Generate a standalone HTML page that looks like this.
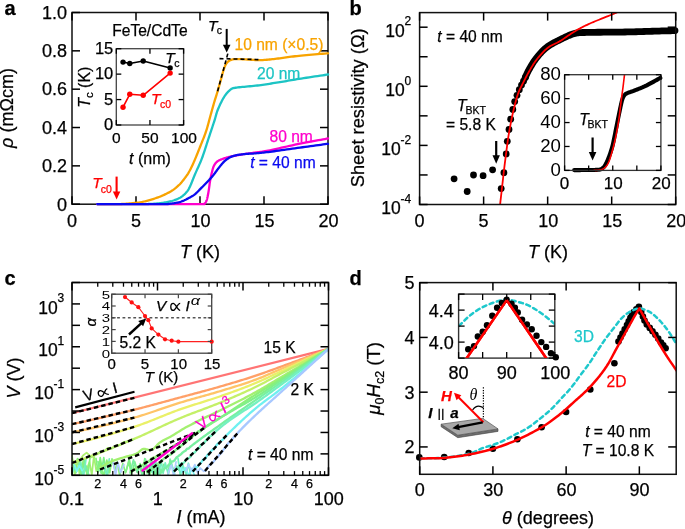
<!DOCTYPE html>
<html><head><meta charset="utf-8"><style>
html,body{margin:0;padding:0;background:#fff;overflow:hidden;}
svg{display:block;will-change:transform;font-family:"Liberation Sans", sans-serif;}
</style></head><body>
<svg width="685" height="529" viewBox="0 0 685 529">
<rect width="685" height="529" fill="#fff"/>
<defs>
<clipPath id="clipb"><rect x="419.6" y="12.6" width="256.10" height="191.90"/></clipPath>
<clipPath id="clipc"><rect x="72" y="282.5" width="256.50" height="192.80"/></clipPath>
<clipPath id="clipd"><rect x="419.7" y="282.6" width="256.50" height="191.70"/></clipPath>
<clipPath id="clipdi"><rect x="458.6" y="294.1" width="96.20" height="64.00"/></clipPath>
<clipPath id="clipdi2"><rect x="448.6" y="294.1" width="116.20" height="74.00"/></clipPath>
</defs>
<text x="4.50" y="14.70" font-size="20" text-anchor="start" fill="#000" stroke="#000" stroke-width="0.25" font-weight="bold" >a</text>
<rect x="72" y="12.5" width="256.00" height="191.70" fill="none" stroke="#111" stroke-width="1.5"/>
<line x1="72.00" y1="204.20" x2="72.00" y2="196.20" stroke="#000" stroke-width="1.5" />
<line x1="72.00" y1="12.50" x2="72.00" y2="20.50" stroke="#000" stroke-width="1.5" />
<text x="72.00" y="226.50" font-size="18" text-anchor="middle" fill="#000" stroke="#000" stroke-width="0.25" >0</text>
<line x1="136.00" y1="204.20" x2="136.00" y2="196.20" stroke="#000" stroke-width="1.5" />
<line x1="136.00" y1="12.50" x2="136.00" y2="20.50" stroke="#000" stroke-width="1.5" />
<text x="136.00" y="226.50" font-size="18" text-anchor="middle" fill="#000" stroke="#000" stroke-width="0.25" >5</text>
<line x1="200.00" y1="204.20" x2="200.00" y2="196.20" stroke="#000" stroke-width="1.5" />
<line x1="200.00" y1="12.50" x2="200.00" y2="20.50" stroke="#000" stroke-width="1.5" />
<text x="200.50" y="226.50" font-size="18" text-anchor="middle" fill="#000" stroke="#000" stroke-width="0.25" >10</text>
<line x1="264.00" y1="204.20" x2="264.00" y2="196.20" stroke="#000" stroke-width="1.5" />
<line x1="264.00" y1="12.50" x2="264.00" y2="20.50" stroke="#000" stroke-width="1.5" />
<text x="264.50" y="226.50" font-size="18" text-anchor="middle" fill="#000" stroke="#000" stroke-width="0.25" >15</text>
<line x1="328.00" y1="204.20" x2="328.00" y2="196.20" stroke="#000" stroke-width="1.5" />
<line x1="328.00" y1="12.50" x2="328.00" y2="20.50" stroke="#000" stroke-width="1.5" />
<text x="328.50" y="226.50" font-size="18" text-anchor="middle" fill="#000" stroke="#000" stroke-width="0.25" >20</text>
<line x1="72.00" y1="204.20" x2="80.00" y2="204.20" stroke="#000" stroke-width="1.5" />
<line x1="328.00" y1="204.20" x2="320.00" y2="204.20" stroke="#000" stroke-width="1.5" />
<text x="67.00" y="210.50" font-size="18" text-anchor="end" fill="#000" stroke="#000" stroke-width="0.25" >0</text>
<line x1="72.00" y1="165.86" x2="80.00" y2="165.86" stroke="#000" stroke-width="1.5" />
<line x1="328.00" y1="165.86" x2="320.00" y2="165.86" stroke="#000" stroke-width="1.5" />
<text x="67.00" y="172.16" font-size="18" text-anchor="end" fill="#000" stroke="#000" stroke-width="0.25" >0.2</text>
<line x1="72.00" y1="127.52" x2="80.00" y2="127.52" stroke="#000" stroke-width="1.5" />
<line x1="328.00" y1="127.52" x2="320.00" y2="127.52" stroke="#000" stroke-width="1.5" />
<text x="67.00" y="133.82" font-size="18" text-anchor="end" fill="#000" stroke="#000" stroke-width="0.25" >0.4</text>
<line x1="72.00" y1="89.18" x2="80.00" y2="89.18" stroke="#000" stroke-width="1.5" />
<line x1="328.00" y1="89.18" x2="320.00" y2="89.18" stroke="#000" stroke-width="1.5" />
<text x="67.00" y="95.48" font-size="18" text-anchor="end" fill="#000" stroke="#000" stroke-width="0.25" >0.6</text>
<line x1="72.00" y1="50.84" x2="80.00" y2="50.84" stroke="#000" stroke-width="1.5" />
<line x1="328.00" y1="50.84" x2="320.00" y2="50.84" stroke="#000" stroke-width="1.5" />
<text x="67.00" y="57.14" font-size="18" text-anchor="end" fill="#000" stroke="#000" stroke-width="0.25" >0.8</text>
<line x1="72.00" y1="12.50" x2="80.00" y2="12.50" stroke="#000" stroke-width="1.5" />
<line x1="328.00" y1="12.50" x2="320.00" y2="12.50" stroke="#000" stroke-width="1.5" />
<text x="67.00" y="18.80" font-size="18" text-anchor="end" fill="#000" stroke="#000" stroke-width="0.25" >1.0</text>
<polyline points="97.30,204.20 98.19,204.20 99.35,204.20 100.73,204.20 102.29,204.21 103.96,204.21 105.71,204.21 107.49,204.21 109.24,204.21 110.91,204.21 112.46,204.21 113.84,204.21 115.00,204.20 115.96,204.19 116.80,204.18 117.53,204.17 118.16,204.16 118.73,204.14 119.23,204.12 119.70,204.11 120.14,204.09 120.57,204.07 121.02,204.05 121.49,204.02 122.00,204.00 122.54,203.97 123.06,203.95 123.57,203.92 124.07,203.89 124.57,203.86 125.06,203.82 125.55,203.79 126.04,203.76 126.52,203.72 127.01,203.68 127.50,203.64 128.00,203.60 128.50,203.56 128.99,203.51 129.47,203.47 129.96,203.42 130.44,203.37 130.93,203.32 131.42,203.27 131.92,203.22 132.42,203.17 132.94,203.11 133.46,203.06 134.00,203.00 134.54,202.95 135.08,202.90 135.62,202.86 136.17,202.81 136.72,202.77 137.29,202.73 137.87,202.67 138.46,202.61 139.08,202.53 139.72,202.44 140.40,202.33 141.10,202.20 141.84,202.05 142.62,201.88 143.43,201.70 144.27,201.50 145.13,201.29 146.01,201.07 146.89,200.85 147.79,200.61 148.68,200.36 149.56,200.11 150.44,199.86 151.30,199.60 152.15,199.34 153.00,199.08 153.85,198.81 154.70,198.53 155.54,198.25 156.39,197.96 157.24,197.66 158.09,197.36 158.94,197.04 159.79,196.70 160.65,196.36 161.50,196.00 162.36,195.62 163.25,195.23 164.14,194.83 165.04,194.41 165.94,193.98 166.84,193.54 167.72,193.09 168.59,192.64 169.44,192.18 170.26,191.72 171.05,191.26 171.80,190.80 172.52,190.33 173.22,189.85 173.89,189.36 174.55,188.86 175.18,188.36 175.79,187.86 176.38,187.35 176.95,186.86 177.50,186.37 178.02,185.90 178.52,185.44 179.00,185.00 179.44,184.59 179.83,184.21 180.19,183.86 180.51,183.52 180.82,183.19 181.11,182.87 181.39,182.54 181.67,182.19 181.97,181.82 182.28,181.42 182.62,180.98 183.00,180.50 183.41,179.98 183.83,179.43 184.28,178.86 184.73,178.27 185.20,177.66 185.67,177.02 186.15,176.36 186.63,175.69 187.11,174.99 187.58,174.28 188.05,173.55 188.50,172.80 188.94,172.04 189.37,171.28 189.80,170.51 190.21,169.72 190.63,168.91 191.05,168.08 191.47,167.22 191.90,166.34 192.33,165.41 192.77,164.45 193.23,163.45 193.70,162.40 194.19,161.29 194.69,160.13 195.20,158.91 195.73,157.65 196.26,156.36 196.79,155.04 197.33,153.70 197.87,152.35 198.41,151.00 198.95,149.65 199.48,148.31 200.00,147.00 200.52,145.70 201.05,144.39 201.58,143.08 202.11,141.76 202.64,140.44 203.17,139.12 203.69,137.80 204.20,136.47 204.70,135.15 205.18,133.83 205.65,132.51 206.10,131.20 206.53,129.88 206.94,128.55 207.33,127.22 207.71,125.88 208.08,124.54 208.44,123.21 208.80,121.88 209.14,120.57 209.48,119.27 209.82,117.99 210.16,116.73 210.50,115.50 210.84,114.29 211.18,113.08 211.51,111.88 211.84,110.70 212.17,109.53 212.49,108.38 212.80,107.24 213.11,106.14 213.42,105.06 213.72,104.00 214.01,102.98 214.30,102.00 214.58,101.07 214.84,100.19 215.10,99.36 215.34,98.57 215.59,97.80 215.82,97.05 216.06,96.31 216.30,95.56 216.54,94.79 216.79,94.00 217.04,93.17 217.30,92.30 217.57,91.38 217.85,90.42 218.14,89.43 218.43,88.42 218.72,87.39 219.02,86.36 219.31,85.32 219.60,84.29 219.89,83.28 220.17,82.29 220.44,81.33 220.70,80.40 220.95,79.50 221.19,78.60 221.43,77.72 221.66,76.84 221.89,75.98 222.11,75.14 222.33,74.31 222.55,73.51 222.76,72.74 222.98,71.99 223.19,71.28 223.40,70.60 223.61,69.95 223.81,69.34 224.00,68.75 224.20,68.20 224.39,67.66 224.58,67.16 224.77,66.67 224.96,66.20 225.16,65.76 225.36,65.32 225.58,64.91 225.80,64.50 226.03,64.11 226.26,63.75 226.50,63.40 226.73,63.07 226.98,62.77 227.22,62.48 227.48,62.20 227.74,61.94 228.02,61.69 228.30,61.45 228.59,61.22 228.90,61.00 229.22,60.79 229.55,60.60 229.89,60.41 230.24,60.24 230.61,60.09 230.98,59.94 231.35,59.81 231.73,59.69 232.12,59.58 232.51,59.48 232.90,59.38 233.30,59.30 233.69,59.23 234.07,59.17 234.44,59.13 234.82,59.10 235.20,59.08 235.59,59.07 235.99,59.06 236.41,59.07 236.86,59.07 237.34,59.08 237.85,59.09 238.40,59.10 238.98,59.11 239.56,59.13 240.16,59.15 240.79,59.18 241.43,59.21 242.11,59.25 242.81,59.29 243.56,59.33 244.35,59.37 245.18,59.41 246.06,59.46 247.00,59.50 248.00,59.55 249.06,59.61 250.18,59.69 251.35,59.77 252.56,59.85 253.80,59.93 255.07,60.00 256.36,60.06 257.67,60.10 258.98,60.12 260.29,60.13 261.60,60.10 262.90,60.05 264.20,59.97 265.51,59.88 266.83,59.77 268.16,59.64 269.51,59.51 270.88,59.36 272.28,59.20 273.71,59.03 275.17,58.86 276.66,58.68 278.20,58.50 279.76,58.31 281.33,58.11 282.91,57.90 284.51,57.67 286.15,57.44 287.82,57.21 289.53,56.97 291.30,56.73 293.12,56.49 295.00,56.25 296.96,56.02 299.00,55.80 301.23,55.58 303.71,55.34 306.37,55.10 309.16,54.86 312.01,54.62 314.85,54.38 317.62,54.15 320.25,53.94 322.68,53.74 324.84,53.57 326.67,53.42 328.10,53.30" fill="none" stroke="#f8a300" stroke-width="2.3" stroke-linejoin="round" stroke-linecap="round" />
<polyline points="97.30,204.20 99.47,204.20 102.34,204.20 105.78,204.20 109.64,204.21 113.80,204.21 118.12,204.21 122.48,204.21 126.73,204.21 130.74,204.21 134.37,204.21 137.51,204.21 140.00,204.20 141.89,204.19 143.35,204.19 144.44,204.18 145.22,204.17 145.77,204.16 146.14,204.15 146.41,204.14 146.63,204.12 146.88,204.10 147.21,204.07 147.70,204.04 148.40,204.00 149.25,203.96 150.15,203.92 151.07,203.88 152.02,203.83 153.00,203.78 153.99,203.72 154.99,203.66 156.00,203.59 157.01,203.51 158.02,203.42 159.02,203.32 160.00,203.20 160.99,203.07 161.99,202.93 163.01,202.78 164.03,202.62 165.06,202.45 166.08,202.27 167.09,202.09 168.09,201.89 169.06,201.68 170.01,201.46 170.92,201.24 171.80,201.00 172.64,200.75 173.46,200.50 174.26,200.23 175.03,199.96 175.79,199.68 176.52,199.38 177.23,199.08 177.92,198.76 178.59,198.44 179.25,198.10 179.88,197.76 180.50,197.40 181.10,197.03 181.67,196.64 182.23,196.25 182.76,195.84 183.27,195.42 183.77,194.99 184.25,194.55 184.71,194.11 185.15,193.66 185.58,193.21 186.00,192.75 186.40,192.30 186.78,191.86 187.12,191.45 187.43,191.05 187.72,190.66 187.99,190.26 188.26,189.84 188.52,189.41 188.78,188.93 189.06,188.42 189.35,187.85 189.66,187.21 190.00,186.50 190.36,185.72 190.73,184.88 191.10,183.99 191.49,183.05 191.88,182.07 192.29,181.04 192.70,179.98 193.13,178.89 193.58,177.77 194.03,176.63 194.51,175.47 195.00,174.30 195.52,173.10 196.06,171.87 196.63,170.61 197.21,169.32 197.82,168.00 198.42,166.66 199.04,165.29 199.65,163.90 200.26,162.50 200.86,161.08 201.44,159.65 202.00,158.20 202.54,156.73 203.08,155.23 203.61,153.71 204.13,152.16 204.64,150.59 205.15,149.01 205.66,147.42 206.16,145.83 206.67,144.24 207.18,142.65 207.69,141.07 208.20,139.50 208.73,137.92 209.26,136.30 209.81,134.65 210.37,132.99 210.92,131.33 211.47,129.69 212.01,128.07 212.53,126.49 213.04,124.95 213.52,123.49 213.98,122.10 214.40,120.80 214.78,119.60 215.11,118.50 215.40,117.48 215.67,116.53 215.91,115.63 216.15,114.76 216.39,113.92 216.63,113.08 216.90,112.24 217.19,111.37 217.52,110.46 217.90,109.50 218.32,108.48 218.78,107.43 219.26,106.34 219.76,105.23 220.29,104.11 220.82,103.00 221.37,101.90 221.93,100.83 222.48,99.79 223.03,98.80 223.57,97.86 224.10,97.00 224.62,96.19 225.15,95.42 225.67,94.69 226.20,93.99 226.72,93.33 227.25,92.70 227.78,92.11 228.30,91.56 228.83,91.04 229.35,90.56 229.88,90.11 230.40,89.70 230.87,89.34 231.27,89.05 231.61,88.81 231.93,88.61 232.25,88.46 232.59,88.32 232.99,88.21 233.46,88.11 234.03,88.00 234.72,87.89 235.57,87.76 236.60,87.60 237.82,87.43 239.22,87.26 240.77,87.10 242.45,86.94 244.23,86.78 246.09,86.61 247.99,86.45 249.93,86.27 251.86,86.10 253.76,85.91 255.62,85.71 257.40,85.50 259.13,85.28 260.87,85.05 262.60,84.80 264.33,84.56 266.07,84.30 267.80,84.04 269.53,83.77 271.27,83.50 273.00,83.23 274.73,82.95 276.47,82.68 278.20,82.40 279.91,82.13 281.57,81.85 283.21,81.57 284.83,81.30 286.45,81.02 288.08,80.73 289.74,80.44 291.45,80.15 293.22,79.85 295.05,79.54 296.98,79.22 299.00,78.90 301.23,78.55 303.71,78.17 306.37,77.76 309.16,77.34 312.01,76.91 314.85,76.48 317.62,76.07 320.25,75.67 322.68,75.31 324.84,74.99 326.67,74.72 328.10,74.50" fill="none" stroke="#1cc4c4" stroke-width="2.3" stroke-linejoin="round" stroke-linecap="round" />
<polyline points="97.30,204.20 102.31,204.20 108.98,204.20 116.98,204.20 125.99,204.20 135.68,204.21 145.71,204.21 155.77,204.21 165.53,204.21 174.66,204.21 182.83,204.21 189.72,204.20 195.00,204.20 198.77,204.20 201.47,204.19 203.24,204.19 204.22,204.19 204.58,204.19 204.46,204.18 204.00,204.18 203.37,204.17 202.70,204.16 202.15,204.14 201.87,204.12 202.00,204.10 202.36,204.08 202.67,204.07 202.93,204.07 203.14,204.07 203.33,204.07 203.49,204.06 203.64,204.04 203.78,204.00 203.91,203.95 204.06,203.86 204.22,203.75 204.40,203.60 204.60,203.43 204.79,203.24 204.99,203.05 205.19,202.83 205.39,202.59 205.59,202.33 205.78,202.04 205.97,201.73 206.16,201.38 206.35,200.99 206.53,200.57 206.70,200.10 206.87,199.59 207.03,199.05 207.19,198.46 207.34,197.84 207.49,197.19 207.64,196.51 207.78,195.80 207.93,195.07 208.07,194.31 208.21,193.52 208.36,192.72 208.50,191.90 208.64,191.04 208.79,190.11 208.93,189.14 209.07,188.13 209.21,187.10 209.35,186.05 209.49,185.00 209.63,183.97 209.77,182.96 209.91,181.99 210.06,181.06 210.20,180.20 210.35,179.39 210.49,178.60 210.64,177.85 210.79,177.12 210.94,176.42 211.09,175.74 211.24,175.08 211.40,174.43 211.55,173.81 211.70,173.19 211.85,172.59 212.00,172.00 212.15,171.42 212.29,170.86 212.42,170.32 212.56,169.80 212.69,169.29 212.83,168.79 212.97,168.31 213.12,167.85 213.27,167.39 213.44,166.95 213.61,166.52 213.80,166.10 214.00,165.69 214.21,165.29 214.42,164.91 214.64,164.54 214.87,164.18 215.11,163.83 215.35,163.50 215.60,163.17 215.86,162.86 216.13,162.56 216.41,162.28 216.70,162.00 216.99,161.74 217.28,161.50 217.57,161.28 217.87,161.07 218.18,160.87 218.49,160.69 218.83,160.51 219.17,160.33 219.54,160.15 219.93,159.97 220.35,159.79 220.80,159.60 221.28,159.40 221.78,159.21 222.32,159.01 222.87,158.81 223.45,158.61 224.04,158.41 224.65,158.22 225.27,158.03 225.90,157.84 226.53,157.65 227.17,157.47 227.80,157.30 228.44,157.13 229.10,156.97 229.77,156.81 230.44,156.65 231.13,156.49 231.83,156.34 232.52,156.20 233.22,156.05 233.92,155.91 234.62,155.77 235.31,155.63 236.00,155.50 236.68,155.37 237.34,155.24 237.99,155.12 238.64,155.01 239.29,154.89 239.94,154.78 240.60,154.67 241.27,154.56 241.97,154.45 242.68,154.33 243.43,154.22 244.20,154.10 245.00,153.98 245.80,153.87 246.62,153.75 247.45,153.64 248.30,153.52 249.17,153.41 250.07,153.29 250.99,153.16 251.94,153.03 252.93,152.90 253.94,152.75 255.00,152.60 256.06,152.45 257.08,152.31 258.10,152.18 259.13,152.06 260.19,151.92 261.30,151.78 262.47,151.61 263.73,151.42 265.10,151.20 266.58,150.95 268.21,150.65 270.00,150.30 271.98,149.89 274.16,149.42 276.49,148.90 278.96,148.33 281.54,147.74 284.19,147.12 286.88,146.50 289.59,145.88 292.29,145.27 294.94,144.68 297.52,144.12 300.00,143.60 302.49,143.10 305.11,142.60 307.80,142.09 310.52,141.59 313.23,141.10 315.88,140.63 318.42,140.18 320.81,139.76 323.02,139.38 324.98,139.04 326.65,138.74 328.00,138.50" fill="none" stroke="#ff00cc" stroke-width="2.3" stroke-linejoin="round" stroke-linecap="round" />
<polyline points="97.30,204.20 100.50,204.20 104.75,204.20 109.83,204.21 115.55,204.21 121.71,204.22 128.10,204.22 134.52,204.22 140.77,204.22 146.65,204.22 151.94,204.22 156.46,204.21 160.00,204.20 162.61,204.19 164.55,204.19 165.92,204.19 166.82,204.19 167.34,204.19 167.59,204.18 167.66,204.17 167.65,204.14 167.66,204.11 167.79,204.06 168.14,203.99 168.80,203.90 169.68,203.80 170.61,203.68 171.57,203.56 172.57,203.42 173.58,203.27 174.61,203.11 175.63,202.93 176.66,202.74 177.66,202.53 178.64,202.30 179.59,202.06 180.50,201.80 181.38,201.51 182.26,201.19 183.14,200.83 184.00,200.46 184.84,200.07 185.67,199.67 186.47,199.26 187.25,198.86 187.99,198.47 188.70,198.09 189.37,197.73 190.00,197.40 190.57,197.10 191.08,196.83 191.55,196.58 191.97,196.34 192.36,196.11 192.72,195.89 193.08,195.66 193.43,195.41 193.79,195.15 194.17,194.87 194.57,194.55 195.00,194.20 195.46,193.81 195.93,193.38 196.41,192.94 196.90,192.46 197.40,191.97 197.90,191.47 198.40,190.96 198.91,190.44 199.41,189.92 199.91,189.40 200.41,188.90 200.90,188.40 201.39,187.91 201.87,187.43 202.35,186.94 202.84,186.46 203.32,185.97 203.80,185.49 204.28,185.00 204.76,184.51 205.25,184.01 205.73,183.51 206.21,183.01 206.70,182.50 207.19,181.99 207.68,181.48 208.17,180.97 208.66,180.45 209.16,179.93 209.65,179.41 210.14,178.88 210.64,178.35 211.13,177.80 211.62,177.25 212.11,176.68 212.60,176.10 213.09,175.50 213.57,174.88 214.05,174.25 214.54,173.60 215.02,172.95 215.50,172.29 215.98,171.62 216.46,170.96 216.95,170.31 217.43,169.66 217.91,169.02 218.40,168.40 218.89,167.78 219.38,167.16 219.87,166.53 220.36,165.91 220.85,165.29 221.34,164.68 221.84,164.08 222.33,163.49 222.82,162.93 223.32,162.39 223.81,161.88 224.30,161.40 224.79,160.95 225.28,160.52 225.78,160.12 226.27,159.74 226.76,159.38 227.26,159.04 227.75,158.71 228.24,158.40 228.73,158.11 229.22,157.83 229.71,157.56 230.20,157.30 230.69,157.06 231.17,156.83 231.65,156.63 232.14,156.44 232.62,156.26 233.10,156.10 233.58,155.95 234.06,155.81 234.55,155.67 235.03,155.55 235.51,155.42 236.00,155.30 236.49,155.19 236.98,155.08 237.47,154.99 237.96,154.91 238.46,154.83 238.95,154.76 239.44,154.70 239.94,154.64 240.43,154.58 240.92,154.52 241.41,154.46 241.90,154.40 242.38,154.34 242.86,154.28 243.32,154.22 243.79,154.17 244.25,154.12 244.71,154.07 245.18,154.02 245.66,153.97 246.15,153.93 246.65,153.88 247.16,153.84 247.70,153.80 248.23,153.76 248.74,153.74 249.24,153.71 249.74,153.70 250.25,153.68 250.77,153.66 251.34,153.64 251.94,153.61 252.60,153.58 253.32,153.53 254.12,153.47 255.00,153.40 255.93,153.32 256.88,153.23 257.86,153.15 258.87,153.05 259.94,152.95 261.08,152.84 262.30,152.71 263.60,152.57 265.01,152.41 266.54,152.23 268.20,152.03 270.00,151.80 271.98,151.54 274.16,151.25 276.49,150.92 278.96,150.58 281.54,150.21 284.19,149.84 286.88,149.45 289.59,149.07 292.29,148.68 294.94,148.31 297.52,147.94 300.00,147.60 302.49,147.26 305.11,146.90 307.80,146.53 310.52,146.16 313.23,145.80 315.88,145.44 318.42,145.09 320.81,144.77 323.02,144.47 324.98,144.21 326.65,143.98 328.00,143.80" fill="none" stroke="#0a0af0" stroke-width="2.3" stroke-linejoin="round" stroke-linecap="round" />
<text x="200.00" y="257.60" font-size="18" text-anchor="middle" fill="#000" stroke="#000" stroke-width="0.25" ><tspan font-style="italic">T</tspan> (K)</text>
<text x="0.00" y="0.00" font-size="18" text-anchor="middle" fill="#000" stroke="#000" stroke-width="0.25" transform="translate(12.9,108.0) rotate(-90)"><tspan font-style="italic">ρ</tspan> (mΩcm)</text>
<text x="234.50" y="50.20" font-size="15.6" text-anchor="start" fill="#f8a300" stroke="#f8a300" stroke-width="0.25" >10 nm (×0.5)</text>
<text x="257.00" y="78.90" font-size="15.6" text-anchor="start" fill="#1cc4c4" stroke="#1cc4c4" stroke-width="0.25" >20 nm</text>
<text x="269.50" y="142.20" font-size="15.6" text-anchor="start" fill="#ff00cc" stroke="#ff00cc" stroke-width="0.25" >80 nm</text>
<text x="250.20" y="168.40" font-size="15.6" text-anchor="start" fill="#0a0af0" stroke="#0a0af0" stroke-width="0.25" ><tspan font-style="italic">t</tspan> = 40 nm</text>
<line x1="219.50" y1="58.60" x2="258.40" y2="59.60" stroke="#000" stroke-width="1.6" stroke-dasharray="4,3"/>
<line x1="227.80" y1="53.60" x2="217.30" y2="92.30" stroke="#000" stroke-width="1.6" stroke-dasharray="4,3"/>
<line x1="226.70" y1="28.90" x2="226.70" y2="45.80" stroke="#000" stroke-width="2.0" />
<polygon points="222.90,44.80 230.50,44.80 226.70,52.60" fill="#000"/>
<text x="207.90" y="30.50" font-size="15.5" text-anchor="start" fill="#000" stroke="#000" stroke-width="0.25" font-style="italic" >T</text>
<text x="216.80" y="34.20" font-size="10.5" text-anchor="start" fill="#000" stroke="#000" stroke-width="0.25" >c</text>
<line x1="116.60" y1="176.60" x2="116.60" y2="192.60" stroke="#ff0000" stroke-width="2.1" />
<polygon points="112.90,191.60 120.30,191.60 116.60,199.60" fill="#ff0000"/>
<text x="92.30" y="188.30" font-size="15.5" text-anchor="start" fill="#ff0000" stroke="#ff0000" stroke-width="0.25" font-style="italic" >T</text>
<text x="100.80" y="192.50" font-size="10.5" text-anchor="start" fill="#ff0000" stroke="#ff0000" stroke-width="0.25" >c0</text>
<text x="112.20" y="35.60" font-size="15.6" text-anchor="start" fill="#000" stroke="#000" stroke-width="0.25" >FeTe/CdTe</text>
<rect x="116.3" y="48.7" width="67.3" height="76.3" fill="#fff"/>
<polyline points="123.03,62.08 129.76,63.55 143.22,61.06 170.14,68.03" fill="none" stroke="#000" stroke-width="1.6" stroke-linejoin="round" stroke-linecap="round" />
<circle cx="123.03" cy="62.08" r="2.7" fill="#000" />
<circle cx="129.76" cy="63.55" r="2.7" fill="#000" />
<circle cx="143.22" cy="61.06" r="2.7" fill="#000" />
<circle cx="170.14" cy="68.03" r="2.7" fill="#000" />
<polyline points="123.03,107.20 129.76,94.28 143.22,95.29 170.14,73.12" fill="none" stroke="#ff0000" stroke-width="1.6" stroke-linejoin="round" stroke-linecap="round" />
<circle cx="123.03" cy="107.20" r="2.7" fill="#ff0000" />
<circle cx="129.76" cy="94.28" r="2.7" fill="#ff0000" />
<circle cx="143.22" cy="95.29" r="2.7" fill="#ff0000" />
<circle cx="170.14" cy="73.12" r="2.7" fill="#ff0000" />
<rect x="116.3" y="48.7" width="67.30" height="76.30" fill="none" stroke="#444" stroke-width="1.3"/>
<line x1="116.30" y1="125.00" x2="116.30" y2="120.00" stroke="#000" stroke-width="1.3" />
<line x1="116.30" y1="48.70" x2="116.30" y2="53.70" stroke="#000" stroke-width="1.3" />
<text x="116.30" y="142.80" font-size="15.5" text-anchor="middle" fill="#000" stroke="#000" stroke-width="0.25" >0</text>
<line x1="149.95" y1="125.00" x2="149.95" y2="120.00" stroke="#000" stroke-width="1.3" />
<line x1="149.95" y1="48.70" x2="149.95" y2="53.70" stroke="#000" stroke-width="1.3" />
<text x="149.95" y="142.80" font-size="15.5" text-anchor="middle" fill="#000" stroke="#000" stroke-width="0.25" >50</text>
<line x1="183.60" y1="125.00" x2="183.60" y2="120.00" stroke="#000" stroke-width="1.3" />
<line x1="183.60" y1="48.70" x2="183.60" y2="53.70" stroke="#000" stroke-width="1.3" />
<text x="184.00" y="142.80" font-size="15.5" text-anchor="middle" fill="#000" stroke="#000" stroke-width="0.25" >100</text>
<line x1="116.30" y1="125.00" x2="121.30" y2="125.00" stroke="#000" stroke-width="1.3" />
<line x1="183.60" y1="125.00" x2="178.60" y2="125.00" stroke="#000" stroke-width="1.3" />
<text x="113.30" y="130.30" font-size="16.5" text-anchor="end" fill="#000" stroke="#000" stroke-width="0.25" >0</text>
<line x1="116.30" y1="99.57" x2="121.30" y2="99.57" stroke="#000" stroke-width="1.3" />
<line x1="183.60" y1="99.57" x2="178.60" y2="99.57" stroke="#000" stroke-width="1.3" />
<text x="113.30" y="104.87" font-size="16.5" text-anchor="end" fill="#000" stroke="#000" stroke-width="0.25" >5</text>
<line x1="116.30" y1="74.13" x2="121.30" y2="74.13" stroke="#000" stroke-width="1.3" />
<line x1="183.60" y1="74.13" x2="178.60" y2="74.13" stroke="#000" stroke-width="1.3" />
<text x="113.30" y="79.43" font-size="16.5" text-anchor="end" fill="#000" stroke="#000" stroke-width="0.25" >10</text>
<line x1="116.30" y1="48.70" x2="121.30" y2="48.70" stroke="#000" stroke-width="1.3" />
<line x1="183.60" y1="48.70" x2="178.60" y2="48.70" stroke="#000" stroke-width="1.3" />
<text x="113.30" y="54.00" font-size="16.5" text-anchor="end" fill="#000" stroke="#000" stroke-width="0.25" >15</text>
<text x="150.00" y="164.00" font-size="16" text-anchor="middle" fill="#000" stroke="#000" stroke-width="0.25" ><tspan font-style="italic">t</tspan> (nm)</text>
<text x="0.00" y="0.00" font-size="16" text-anchor="middle" fill="#000" stroke="#000" stroke-width="0.25" transform="translate(89.5,87.2) rotate(-90)"><tspan font-style="italic">T</tspan><tspan font-size="11.5" dy="3.5">c</tspan><tspan dy="-3.5"> (K)</tspan></text>
<text x="165.30" y="63.30" font-size="15.5" text-anchor="start" fill="#000" stroke="#000" stroke-width="0.25" font-style="italic" >T</text>
<text x="174.30" y="67.00" font-size="10.5" text-anchor="start" fill="#000" stroke="#000" stroke-width="0.25" >c</text>
<text x="151.10" y="103.60" font-size="15.5" text-anchor="start" fill="#ff0000" stroke="#ff0000" stroke-width="0.25" font-style="italic" >T</text>
<text x="159.90" y="107.80" font-size="10.5" text-anchor="start" fill="#ff0000" stroke="#ff0000" stroke-width="0.25" >c0</text>
<text x="349.50" y="14.70" font-size="20" text-anchor="start" fill="#000" stroke="#000" stroke-width="0.25" font-weight="bold" >b</text>
<circle cx="454.10" cy="178.80" r="3.4" fill="#000" />
<circle cx="467.20" cy="191.50" r="3.4" fill="#000" />
<circle cx="473.50" cy="175.00" r="3.4" fill="#000" />
<circle cx="483.10" cy="175.70" r="3.4" fill="#000" />
<circle cx="492.60" cy="169.80" r="3.4" fill="#000" />
<circle cx="501.20" cy="188.60" r="3.4" fill="#000" />
<circle cx="503.90" cy="172.70" r="3.4" fill="#000" />
<circle cx="506.20" cy="153.90" r="3.4" fill="#000" />
<circle cx="507.30" cy="141.30" r="3.4" fill="#000" />
<circle cx="509.00" cy="129.40" r="3.4" fill="#000" />
<circle cx="510.70" cy="119.20" r="3.4" fill="#000" />
<circle cx="512.80" cy="109.50" r="3.4" fill="#000" />
<circle cx="514.70" cy="101.60" r="3.4" fill="#000" />
<circle cx="517.00" cy="95.30" r="3.4" fill="#000" />
<circle cx="519.30" cy="89.70" r="3.4" fill="#000" />
<circle cx="521.50" cy="85.10" r="3.4" fill="#000" />
<circle cx="523.50" cy="81.20" r="3.4" fill="#000" />
<circle cx="525.30" cy="77.50" r="3.4" fill="#000" />
<polyline points="525.30,77.50 525.45,77.17 525.62,76.78 525.80,76.32 526.01,75.82 526.25,75.26 526.51,74.66 526.79,74.02 527.10,73.35 527.43,72.64 527.79,71.91 528.18,71.16 528.60,70.40 529.05,69.60 529.52,68.75 530.03,67.85 530.56,66.91 531.12,65.95 531.70,64.96 532.31,63.96 532.94,62.95 533.60,61.94 534.28,60.94 534.98,59.96 535.70,59.00 536.44,58.04 537.21,57.08 538.00,56.10 538.81,55.11 539.65,54.13 540.51,53.15 541.39,52.18 542.30,51.23 543.24,50.30 544.20,49.40 545.18,48.53 546.20,47.70 547.25,46.90 548.35,46.13 549.48,45.38 550.64,44.66 551.83,43.96 553.04,43.28 554.27,42.61 555.50,41.96 556.74,41.33 557.97,40.71 559.19,40.10 560.40,39.50 561.60,38.90 562.81,38.30 564.01,37.71 565.22,37.12 566.43,36.55 567.65,36.00 568.87,35.47 570.09,34.98 571.31,34.52 572.54,34.10 573.77,33.72 575.00,33.40 576.17,33.14 577.25,32.93 578.25,32.78 579.23,32.67 580.21,32.59 581.23,32.54 582.31,32.52 583.50,32.50 584.83,32.49 586.34,32.47 588.05,32.45 590.00,32.40 592.25,32.35 594.79,32.30 597.58,32.26 600.56,32.23 603.67,32.21 606.88,32.18 610.11,32.16 613.33,32.13 616.48,32.11 619.51,32.08 622.37,32.04 625.00,32.00 627.43,31.95 629.75,31.90 631.95,31.85 634.07,31.79 636.13,31.73 638.12,31.67 640.09,31.61 642.04,31.54 643.98,31.48 645.95,31.42 647.95,31.36 650.00,31.30 652.16,31.24 654.46,31.18 656.84,31.11 659.26,31.04 661.68,30.97 664.06,30.91 666.36,30.84 668.52,30.78 670.51,30.73 672.28,30.68 673.79,30.63 675.00,30.60" fill="none" stroke="#000" stroke-width="6.8" stroke-linejoin="round" stroke-linecap="round" />
<polyline points="500.10,204.50 500.21,203.56 500.34,202.36 500.50,200.95 500.69,199.37 500.88,197.65 501.09,195.84 501.30,193.98 501.51,192.10 501.73,190.24 501.93,188.44 502.12,186.75 502.30,185.20 502.46,183.75 502.62,182.33 502.78,180.95 502.93,179.59 503.08,178.25 503.23,176.94 503.37,175.64 503.51,174.36 503.66,173.08 503.80,171.82 503.95,170.56 504.10,169.30 504.25,168.05 504.40,166.81 504.55,165.58 504.70,164.37 504.86,163.16 505.01,161.97 505.16,160.79 505.31,159.61 505.46,158.45 505.61,157.29 505.75,156.14 505.90,155.00 506.04,153.87 506.19,152.75 506.32,151.65 506.46,150.56 506.60,149.47 506.74,148.39 506.88,147.32 507.01,146.26 507.16,145.19 507.30,144.13 507.45,143.07 507.60,142.00 507.75,140.95 507.90,139.93 508.05,138.93 508.19,137.93 508.34,136.94 508.49,135.95 508.65,134.94 508.82,133.91 508.99,132.85 509.18,131.75 509.38,130.60 509.60,129.40 509.83,128.14 510.07,126.82 510.33,125.46 510.59,124.06 510.86,122.63 511.14,121.18 511.43,119.71 511.73,118.24 512.04,116.76 512.35,115.29 512.67,113.83 513.00,112.40 513.34,110.96 513.69,109.48 514.05,107.97 514.42,106.46 514.80,104.94 515.18,103.43 515.57,101.95 515.96,100.50 516.35,99.10 516.74,97.76 517.12,96.49 517.50,95.30 517.86,94.22 518.21,93.24 518.55,92.35 518.88,91.52 519.21,90.74 519.55,89.99 519.90,89.25 520.26,88.50 520.65,87.72 521.06,86.89 521.51,85.99 522.00,85.00 522.53,83.92 523.10,82.78 523.71,81.58 524.34,80.33 525.00,79.06 525.67,77.77 526.35,76.47 527.04,75.19 527.72,73.93 528.40,72.70 529.06,71.52 529.70,70.40 530.32,69.34 530.91,68.31 531.49,67.32 532.06,66.36 532.63,65.42 533.21,64.49 533.79,63.58 534.39,62.67 535.02,61.77 535.67,60.86 536.37,59.94 537.10,59.00 537.88,58.04 538.68,57.06 539.52,56.06 540.39,55.06 541.27,54.06 542.18,53.06 543.11,52.08 544.05,51.13 545.00,50.21 545.96,49.32 546.93,48.48 547.90,47.70 548.88,46.99 549.86,46.34 550.86,45.75 551.86,45.21 552.88,44.69 553.91,44.20 554.96,43.71 556.01,43.21 557.09,42.70 558.18,42.15 559.28,41.55 560.40,40.90 561.54,40.19 562.71,39.43 563.89,38.63 565.10,37.81 566.31,36.96 567.54,36.11 568.78,35.25 570.03,34.39 571.27,33.55 572.52,32.73 573.76,31.95 575.00,31.20 576.22,30.49 577.41,29.81 578.59,29.15 579.76,28.51 580.93,27.89 582.11,27.28 583.32,26.66 584.56,26.05 585.83,25.43 587.16,24.81 588.55,24.16 590.00,23.50 591.58,22.80 593.31,22.06 595.15,21.29 597.06,20.50 599.02,19.71 600.98,18.92 602.91,18.15 604.77,17.41 606.53,16.71 608.14,16.07 609.58,15.50 610.80,15.00 611.82,14.58 612.69,14.22 613.42,13.91 614.03,13.66 614.53,13.45 614.95,13.27 615.29,13.12 615.58,13.00 615.83,12.89 616.05,12.79 616.27,12.70 616.50,12.60" fill="none" stroke="#ff0000" stroke-width="1.8" stroke-linejoin="round" stroke-linecap="round" clip-path="url(#clipb)"/>
<rect x="419.6" y="12.6" width="256.10" height="191.90" fill="none" stroke="#111" stroke-width="1.5"/>
<line x1="419.60" y1="204.50" x2="419.60" y2="196.50" stroke="#000" stroke-width="1.5" />
<line x1="419.60" y1="12.60" x2="419.60" y2="20.60" stroke="#000" stroke-width="1.5" />
<text x="419.60" y="226.50" font-size="18" text-anchor="middle" fill="#000" stroke="#000" stroke-width="0.25" >0</text>
<line x1="483.62" y1="204.50" x2="483.62" y2="196.50" stroke="#000" stroke-width="1.5" />
<line x1="483.62" y1="12.60" x2="483.62" y2="20.60" stroke="#000" stroke-width="1.5" />
<text x="483.62" y="226.50" font-size="18" text-anchor="middle" fill="#000" stroke="#000" stroke-width="0.25" >5</text>
<line x1="547.65" y1="204.50" x2="547.65" y2="196.50" stroke="#000" stroke-width="1.5" />
<line x1="547.65" y1="12.60" x2="547.65" y2="20.60" stroke="#000" stroke-width="1.5" />
<text x="548.15" y="226.50" font-size="18" text-anchor="middle" fill="#000" stroke="#000" stroke-width="0.25" >10</text>
<line x1="611.68" y1="204.50" x2="611.68" y2="196.50" stroke="#000" stroke-width="1.5" />
<line x1="611.68" y1="12.60" x2="611.68" y2="20.60" stroke="#000" stroke-width="1.5" />
<text x="612.18" y="226.50" font-size="18" text-anchor="middle" fill="#000" stroke="#000" stroke-width="0.25" >15</text>
<line x1="675.70" y1="204.50" x2="675.70" y2="196.50" stroke="#000" stroke-width="1.5" />
<line x1="675.70" y1="12.60" x2="675.70" y2="20.60" stroke="#000" stroke-width="1.5" />
<text x="676.20" y="226.50" font-size="18" text-anchor="middle" fill="#000" stroke="#000" stroke-width="0.25" >20</text>
<line x1="419.60" y1="204.50" x2="427.60" y2="204.50" stroke="#000" stroke-width="1.5" />
<line x1="675.70" y1="204.50" x2="667.70" y2="204.50" stroke="#000" stroke-width="1.5" />
<text x="400.73" y="214.00" font-size="17.5" text-anchor="end" fill="#000" stroke="#000" stroke-width="0.25" >10</text>
<text x="411.20" y="202.70" font-size="12" text-anchor="end" fill="#000" stroke="#000" stroke-width="0.25" >-4</text>
<line x1="419.60" y1="174.95" x2="427.60" y2="174.95" stroke="#000" stroke-width="1.5" />
<line x1="675.70" y1="174.95" x2="667.70" y2="174.95" stroke="#000" stroke-width="1.5" />
<line x1="419.60" y1="145.40" x2="427.60" y2="145.40" stroke="#000" stroke-width="1.5" />
<line x1="675.70" y1="145.40" x2="667.70" y2="145.40" stroke="#000" stroke-width="1.5" />
<text x="400.73" y="154.90" font-size="17.5" text-anchor="end" fill="#000" stroke="#000" stroke-width="0.25" >10</text>
<text x="411.20" y="143.60" font-size="12" text-anchor="end" fill="#000" stroke="#000" stroke-width="0.25" >-2</text>
<line x1="419.60" y1="115.85" x2="427.60" y2="115.85" stroke="#000" stroke-width="1.5" />
<line x1="675.70" y1="115.85" x2="667.70" y2="115.85" stroke="#000" stroke-width="1.5" />
<line x1="419.60" y1="86.30" x2="427.60" y2="86.30" stroke="#000" stroke-width="1.5" />
<line x1="675.70" y1="86.30" x2="667.70" y2="86.30" stroke="#000" stroke-width="1.5" />
<text x="404.73" y="95.80" font-size="17.5" text-anchor="end" fill="#000" stroke="#000" stroke-width="0.25" >10</text>
<text x="411.20" y="84.50" font-size="12" text-anchor="end" fill="#000" stroke="#000" stroke-width="0.25" >0</text>
<line x1="419.60" y1="56.75" x2="427.60" y2="56.75" stroke="#000" stroke-width="1.5" />
<line x1="675.70" y1="56.75" x2="667.70" y2="56.75" stroke="#000" stroke-width="1.5" />
<line x1="419.60" y1="27.20" x2="427.60" y2="27.20" stroke="#000" stroke-width="1.5" />
<line x1="675.70" y1="27.20" x2="667.70" y2="27.20" stroke="#000" stroke-width="1.5" />
<text x="404.73" y="36.70" font-size="17.5" text-anchor="end" fill="#000" stroke="#000" stroke-width="0.25" >10</text>
<text x="411.20" y="25.40" font-size="12" text-anchor="end" fill="#000" stroke="#000" stroke-width="0.25" >2</text>
<text x="548.00" y="257.60" font-size="18" text-anchor="middle" fill="#000" stroke="#000" stroke-width="0.25" ><tspan font-style="italic">T</tspan> (K)</text>
<text x="0.00" y="0.00" font-size="18.3" text-anchor="middle" fill="#000" stroke="#000" stroke-width="0.25" transform="translate(363.6,107.8) rotate(-90)">Sheet resistivity (Ω)</text>
<text x="437.30" y="41.80" font-size="15.6" text-anchor="start" fill="#000" stroke="#000" stroke-width="0.25" ><tspan font-style="italic">t</tspan> = 40 nm</text>
<text x="457.00" y="110.80" font-size="15.6" text-anchor="start" fill="#000" stroke="#000" stroke-width="0.25" font-style="italic" >T</text>
<text x="465.60" y="114.40" font-size="10.5" text-anchor="start" fill="#000" stroke="#000" stroke-width="0.25" >BKT</text>
<text x="446.00" y="129.60" font-size="15.6" text-anchor="start" fill="#000" stroke="#000" stroke-width="0.25" >= 5.8 K</text>
<line x1="496.20" y1="141.00" x2="496.20" y2="156.20" stroke="#000" stroke-width="2.2" />
<polygon points="492.50,155.20 499.90,155.20 496.20,163.70" fill="#000"/>
<rect x="564.6" y="74.7" width="96.30" height="95.70" fill="#fff"/>
<polyline points="574.20,170.10 574.98,170.10 575.99,170.09 577.19,170.09 578.53,170.09 579.98,170.08 581.51,170.07 583.06,170.07 584.61,170.06 586.12,170.05 587.55,170.04 588.85,170.02 590.00,170.00 591.03,169.98 592.02,169.97 592.96,169.95 593.86,169.94 594.71,169.93 595.52,169.91 596.29,169.88 597.01,169.85 597.69,169.81 598.34,169.75 598.94,169.68 599.50,169.60 600.01,169.50 600.44,169.39 600.83,169.27 601.16,169.14 601.44,169.00 601.70,168.85 601.93,168.69 602.14,168.53 602.35,168.35 602.56,168.17 602.77,167.99 603.00,167.80 603.23,167.62 603.44,167.45 603.63,167.29 603.81,167.12 603.98,166.95 604.15,166.77 604.32,166.56 604.49,166.33 604.67,166.07 604.86,165.76 605.07,165.41 605.30,165.00 605.55,164.54 605.81,164.05 606.08,163.52 606.37,162.95 606.66,162.35 606.96,161.72 607.26,161.05 607.57,160.36 607.88,159.64 608.19,158.88 608.49,158.10 608.80,157.30 609.11,156.47 609.42,155.63 609.73,154.76 610.05,153.87 610.37,152.94 610.69,151.99 611.01,151.00 611.33,149.97 611.65,148.90 611.97,147.78 612.29,146.62 612.60,145.40 612.91,144.11 613.23,142.74 613.54,141.30 613.86,139.80 614.17,138.26 614.49,136.69 614.80,135.11 615.11,133.53 615.41,131.97 615.71,130.43 616.01,128.94 616.30,127.50 616.59,126.10 616.87,124.70 617.15,123.31 617.42,121.93 617.69,120.57 617.96,119.23 618.23,117.90 618.49,116.60 618.75,115.33 619.00,114.08 619.25,112.87 619.50,111.70 619.74,110.55 619.98,109.41 620.22,108.28 620.45,107.18 620.68,106.11 620.90,105.06 621.12,104.06 621.34,103.10 621.56,102.18 621.77,101.33 621.99,100.53 622.20,99.80 622.41,99.14 622.61,98.56 622.81,98.04 623.00,97.57 623.19,97.15 623.38,96.78 623.57,96.44 623.77,96.13 623.96,95.84 624.17,95.56 624.38,95.28 624.60,95.00 624.82,94.74 625.03,94.51 625.24,94.31 625.44,94.13 625.65,93.98 625.87,93.84 626.10,93.71 626.35,93.58 626.62,93.45 626.91,93.31 627.24,93.16 627.60,93.00 627.98,92.83 628.37,92.68 628.77,92.53 629.19,92.38 629.63,92.23 630.09,92.08 630.59,91.92 631.12,91.74 631.69,91.54 632.31,91.33 632.98,91.08 633.70,90.80 634.48,90.50 635.31,90.18 636.20,89.84 637.13,89.48 638.10,89.11 639.11,88.71 640.14,88.30 641.20,87.86 642.29,87.41 643.38,86.93 644.49,86.43 645.60,85.90 646.78,85.32 648.07,84.65 649.44,83.93 650.87,83.17 652.31,82.38 653.74,81.59 655.14,80.82 656.46,80.09 657.67,79.41 658.76,78.81 659.68,78.30 660.40,77.90" fill="none" stroke="#000" stroke-width="4.1" stroke-linejoin="round" stroke-linecap="round" />
<polyline points="594.00,170.30 594.22,170.30 594.48,170.31 594.80,170.32 595.15,170.33 595.53,170.34 595.94,170.35 596.36,170.35 596.80,170.35 597.23,170.33 597.67,170.30 598.09,170.26 598.50,170.20 598.90,170.13 599.31,170.06 599.73,169.99 600.15,169.91 600.57,169.82 601.00,169.71 601.43,169.59 601.85,169.45 602.27,169.28 602.69,169.09 603.10,168.86 603.50,168.60 603.90,168.31 604.29,168.01 604.68,167.69 605.07,167.35 605.46,166.98 605.84,166.59 606.21,166.16 606.59,165.71 606.95,165.22 607.31,164.69 607.66,164.11 608.00,163.50 608.33,162.85 608.65,162.16 608.95,161.44 609.25,160.69 609.54,159.90 609.83,159.07 610.12,158.21 610.40,157.30 610.69,156.36 610.99,155.38 611.29,154.36 611.60,153.30 611.92,152.19 612.25,151.02 612.59,149.79 612.93,148.53 613.28,147.22 613.62,145.88 613.97,144.52 614.31,143.13 614.65,141.73 614.98,140.32 615.29,138.91 615.60,137.50 615.90,136.08 616.19,134.63 616.48,133.17 616.76,131.68 617.04,130.18 617.31,128.66 617.58,127.14 617.84,125.62 618.09,124.10 618.33,122.59 618.57,121.09 618.80,119.60 619.02,118.11 619.23,116.61 619.43,115.09 619.62,113.58 619.80,112.06 619.98,110.56 620.16,109.06 620.33,107.59 620.49,106.14 620.66,104.72 620.83,103.34 621.00,102.00 621.17,100.71 621.34,99.45 621.50,98.23 621.67,97.04 621.83,95.88 621.99,94.73 622.14,93.60 622.30,92.48 622.45,91.37 622.60,90.25 622.75,89.13 622.90,88.00 623.05,86.82 623.20,85.59 623.36,84.31 623.51,83.02 623.67,81.74 623.82,80.47 623.96,79.26 624.10,78.12 624.22,77.07 624.33,76.14 624.42,75.34 624.50,74.70" fill="none" stroke="#ff0000" stroke-width="1.6" stroke-linejoin="round" stroke-linecap="round" />
<rect x="564.6" y="74.7" width="96.30" height="95.70" fill="none" stroke="#333" stroke-width="1.3"/>
<line x1="564.60" y1="170.40" x2="564.60" y2="165.40" stroke="#000" stroke-width="1.3" />
<line x1="564.60" y1="74.70" x2="564.60" y2="79.70" stroke="#000" stroke-width="1.3" />
<text x="564.60" y="188.50" font-size="17" text-anchor="middle" fill="#000" stroke="#000" stroke-width="0.25" >0</text>
<line x1="588.67" y1="170.40" x2="588.67" y2="165.40" stroke="#000" stroke-width="1.3" />
<line x1="588.67" y1="74.70" x2="588.67" y2="79.70" stroke="#000" stroke-width="1.3" />
<line x1="612.75" y1="170.40" x2="612.75" y2="165.40" stroke="#000" stroke-width="1.3" />
<line x1="612.75" y1="74.70" x2="612.75" y2="79.70" stroke="#000" stroke-width="1.3" />
<text x="613.15" y="188.50" font-size="17" text-anchor="middle" fill="#000" stroke="#000" stroke-width="0.25" >10</text>
<line x1="636.83" y1="170.40" x2="636.83" y2="165.40" stroke="#000" stroke-width="1.3" />
<line x1="636.83" y1="74.70" x2="636.83" y2="79.70" stroke="#000" stroke-width="1.3" />
<line x1="660.90" y1="170.40" x2="660.90" y2="165.40" stroke="#000" stroke-width="1.3" />
<line x1="660.90" y1="74.70" x2="660.90" y2="79.70" stroke="#000" stroke-width="1.3" />
<text x="661.30" y="188.50" font-size="17" text-anchor="middle" fill="#000" stroke="#000" stroke-width="0.25" >20</text>
<line x1="564.60" y1="170.40" x2="569.60" y2="170.40" stroke="#000" stroke-width="1.3" />
<line x1="660.90" y1="170.40" x2="655.90" y2="170.40" stroke="#000" stroke-width="1.3" />
<text x="0" y="0" font-size="17.6" text-anchor="end" transform="translate(561.0,176.00) scale(1.06,1)">0</text>
<line x1="564.60" y1="146.47" x2="569.60" y2="146.47" stroke="#000" stroke-width="1.3" />
<line x1="660.90" y1="146.47" x2="655.90" y2="146.47" stroke="#000" stroke-width="1.3" />
<text x="0" y="0" font-size="17.6" text-anchor="end" transform="translate(561.0,152.07) scale(1.06,1)">20</text>
<line x1="564.60" y1="122.55" x2="569.60" y2="122.55" stroke="#000" stroke-width="1.3" />
<line x1="660.90" y1="122.55" x2="655.90" y2="122.55" stroke="#000" stroke-width="1.3" />
<text x="0" y="0" font-size="17.6" text-anchor="end" transform="translate(561.0,128.15) scale(1.06,1)">40</text>
<line x1="564.60" y1="98.62" x2="569.60" y2="98.62" stroke="#000" stroke-width="1.3" />
<line x1="660.90" y1="98.62" x2="655.90" y2="98.62" stroke="#000" stroke-width="1.3" />
<text x="0" y="0" font-size="17.6" text-anchor="end" transform="translate(561.0,104.22) scale(1.06,1)">60</text>
<line x1="564.60" y1="74.70" x2="569.60" y2="74.70" stroke="#000" stroke-width="1.3" />
<line x1="660.90" y1="74.70" x2="655.90" y2="74.70" stroke="#000" stroke-width="1.3" />
<text x="0" y="0" font-size="17.6" text-anchor="end" transform="translate(561.0,80.30) scale(1.06,1)">80</text>
<text x="579.30" y="124.80" font-size="15.6" text-anchor="start" fill="#000" stroke="#000" stroke-width="0.25" font-style="italic" >T</text>
<text x="587.60" y="128.30" font-size="10.5" text-anchor="start" fill="#000" stroke="#000" stroke-width="0.25" >BKT</text>
<line x1="592.60" y1="137.50" x2="592.60" y2="153.10" stroke="#000" stroke-width="2.2" />
<polygon points="588.80,152.10 596.40,152.10 592.60,160.60" fill="#000"/>
<text x="4.50" y="284.60" font-size="20" text-anchor="start" fill="#000" stroke="#000" stroke-width="0.25" font-weight="bold" >c</text>
<g clip-path="url(#clipc)">
<polyline points="72.00,455.16 74.74,475.80 77.41,458.88 79.43,473.90 82.94,461.81 86.11,470.87 89.54,461.86 91.80,475.06 93.84,455.93 96.34,471.26 99.56,461.55 102.11,472.55" fill="none" stroke="#a4f070" stroke-width="1.7" stroke-linejoin="round" stroke-linecap="round" stroke-linejoin="miter"/>
<polyline points="72.00,461.41 74.96,470.45 77.73,458.62 81.08,475.74 84.05,459.97 87.57,477.89 90.11,457.16" fill="none" stroke="#86f27c" stroke-width="1.7" stroke-linejoin="round" stroke-linecap="round" stroke-linejoin="miter"/>
<polyline points="96.00,458.28 98.11,472.55 100.22,457.61 103.49,477.24 106.76,460.06 109.74,472.89 112.01,458.93 115.19,470.50 117.22,461.93 119.70,475.61 122.87,463.40 125.51,472.87 128.80,461.88 131.85,476.49" fill="none" stroke="#86f27c" stroke-width="1.7" stroke-linejoin="round" stroke-linecap="round" stroke-linejoin="miter"/>
<polyline points="76.00,472.67 79.18,464.55 81.72,474.89 84.30,460.15 86.42,470.15" fill="none" stroke="#80f088" stroke-width="1.7" stroke-linejoin="round" stroke-linecap="round" stroke-linejoin="miter"/>
<polyline points="98.00,461.61 101.18,473.35 103.77,457.52 107.04,476.66 110.22,463.88" fill="none" stroke="#80f088" stroke-width="1.7" stroke-linejoin="round" stroke-linecap="round" stroke-linejoin="miter"/>
<polyline points="126.00,471.54 129.23,459.01 131.93,472.55 134.84,461.93 137.76,472.55 140.11,463.60 142.59,473.51 144.74,458.71 146.87,472.75" fill="none" stroke="#80f088" stroke-width="1.7" stroke-linejoin="round" stroke-linecap="round" stroke-linejoin="miter"/>
<polyline points="150.00,475.00 152.43,461.91 155.43,476.61 158.29,464.20 160.95,472.29 163.78,464.30" fill="none" stroke="#80f088" stroke-width="1.7" stroke-linejoin="round" stroke-linecap="round" stroke-linejoin="miter"/>
<polyline points="80.00,461.48 83.04,473.58 85.92,465.74 89.41,476.73" fill="none" stroke="#78f0a0" stroke-width="1.7" stroke-linejoin="round" stroke-linecap="round" stroke-linejoin="miter"/>
<polyline points="130.00,472.93 133.46,459.82 136.95,471.91 139.62,465.64 142.57,477.46 145.44,459.05 148.58,474.17 151.39,458.23 153.62,477.44 157.15,465.69 159.72,470.37" fill="none" stroke="#78f0a0" stroke-width="1.7" stroke-linejoin="round" stroke-linecap="round" stroke-linejoin="miter"/>
<polyline points="168.00,475.18 170.08,459.10 173.21,470.44 176.57,465.90 178.96,470.43" fill="none" stroke="#78f0a0" stroke-width="1.7" stroke-linejoin="round" stroke-linecap="round" stroke-linejoin="miter"/>
<polyline points="72.00,473.63 74.77,466.16 77.33,470.43 80.32,460.13 83.41,477.58 85.98,459.47" fill="none" stroke="#74f0c0" stroke-width="1.7" stroke-linejoin="round" stroke-linecap="round" stroke-linejoin="miter"/>
<polyline points="100.00,470.63 103.52,464.06 106.98,476.52 109.29,458.76" fill="none" stroke="#74f0c0" stroke-width="1.7" stroke-linejoin="round" stroke-linecap="round" stroke-linejoin="miter"/>
<polyline points="150.00,464.91 152.27,472.39 155.35,459.48 158.55,477.03 161.07,459.99 163.11,473.38 165.22,462.75 168.32,474.55 171.28,463.00 174.73,474.25" fill="none" stroke="#74f0c0" stroke-width="1.7" stroke-linejoin="round" stroke-linecap="round" stroke-linejoin="miter"/>
<polyline points="178.00,458.41 180.36,476.35 182.72,464.73 186.17,474.36 188.40,463.23 191.00,477.27" fill="none" stroke="#74f0c0" stroke-width="1.7" stroke-linejoin="round" stroke-linecap="round" stroke-linejoin="miter"/>
<polyline points="74.00,463.82 76.79,471.50 79.39,465.68 82.14,470.48" fill="none" stroke="#7cf4f4" stroke-width="1.7" stroke-linejoin="round" stroke-linecap="round" stroke-linejoin="miter"/>
<polyline points="180.00,463.48 182.04,472.19 185.56,467.83 189.06,476.07 191.76,468.38 194.24,474.75" fill="none" stroke="#7cf4f4" stroke-width="1.7" stroke-linejoin="round" stroke-linecap="round" stroke-linejoin="miter"/>
<polyline points="113.00,461.50 115.53,475.14 117.98,462.46 120.55,472.60 123.88,464.46" fill="none" stroke="#b0ccff" stroke-width="1.7" stroke-linejoin="round" stroke-linecap="round" stroke-linejoin="miter"/>
<polyline points="168.00,474.02 171.25,463.95 173.74,476.71 176.02,461.78" fill="none" stroke="#b0ccff" stroke-width="1.7" stroke-linejoin="round" stroke-linecap="round" stroke-linejoin="miter"/>
<polyline points="186.00,470.92 188.54,464.32 191.63,470.84 194.84,464.57 197.66,473.05 200.17,467.91 203.76,471.40" fill="none" stroke="#b0ccff" stroke-width="1.7" stroke-linejoin="round" stroke-linecap="round" stroke-linejoin="miter"/>
<polyline points="72.00,413.20 328.50,348.90" fill="none" stroke="#ff7474" stroke-width="2.3" stroke-linejoin="round" stroke-linecap="round" />
<polyline points="72.00,424.20 73.50,423.88 75.00,423.56 76.50,423.24 78.00,422.91 79.50,422.59 81.00,422.26 82.50,421.93 84.00,421.60 85.50,421.27 87.00,420.94 88.50,420.60 90.00,420.27 91.50,419.93 93.00,419.59 94.50,419.25 96.00,418.91 97.50,418.56 99.00,418.22 100.50,417.87 102.00,417.52 103.50,417.17 105.00,416.82 106.50,416.47 108.00,416.12 109.50,415.76 111.00,415.41 112.50,415.05 114.00,414.69 115.50,414.33 117.00,413.97 118.50,413.61 120.00,413.25 121.50,412.88 123.00,412.52 124.50,412.15 126.00,411.78 127.50,411.41 129.00,411.04 130.50,410.67 132.00,410.30 133.50,409.92 135.00,409.55 136.50,409.17 138.00,408.79 139.50,408.41 141.00,408.02 142.50,407.63 144.00,407.24 145.50,406.85 147.00,406.45 148.50,406.06 150.00,405.66 151.50,405.25 153.00,404.85 154.50,404.45 156.00,404.04 157.50,403.63 159.00,403.23 160.50,402.82 162.00,402.41 163.50,402.00 165.00,401.59 166.50,401.18 168.00,400.77 169.50,400.36 171.00,399.95 172.50,399.54 174.00,399.13 175.50,398.72 177.00,398.31 178.50,397.91 180.00,397.50 181.50,397.10 183.00,396.69 184.50,396.29 186.00,395.89 187.50,395.49 189.00,395.09 190.50,394.69 192.00,394.28 193.50,393.88 195.00,393.48 196.50,393.08 198.00,392.68 199.50,392.28 201.00,391.87 202.50,391.47 204.00,391.06 205.50,390.65 207.00,390.24 208.50,389.83 210.00,389.42 211.50,389.00 213.00,388.59 214.50,388.17 216.00,387.74 217.50,387.32 219.00,386.89 220.50,386.46 222.00,386.02 223.50,385.59 225.00,385.15 226.50,384.71 228.00,384.27 229.50,383.83 231.00,383.38 232.50,382.94 234.00,382.49 235.50,382.04 237.00,381.58 238.50,381.13 240.00,380.67 241.50,380.21 243.00,379.74 244.50,379.27 246.00,378.80 247.50,378.33 249.00,377.85 250.50,377.37 252.00,376.88 253.50,376.39 255.00,375.90 256.50,375.40 258.00,374.89 259.50,374.38 261.00,373.86 262.50,373.34 264.00,372.81 265.50,372.27 267.00,371.73 268.50,371.19 270.00,370.65 271.50,370.10 273.00,369.56 274.50,369.01 276.00,368.46 277.50,367.91 279.00,367.36 280.50,366.82 282.00,366.27 283.50,365.73 285.00,365.18 286.50,364.63 288.00,364.08 289.50,363.53 291.00,362.98 292.50,362.43 294.00,361.88 295.50,361.32 297.00,360.77 298.50,360.21 300.00,359.66 301.50,359.10 303.00,358.54 304.50,357.98 306.00,357.42 307.50,356.86 309.00,356.30 310.50,355.74 312.00,355.18 313.50,354.61 315.00,354.04 316.50,353.48 318.00,352.91 319.50,352.34 321.00,351.77 322.50,351.20 324.00,350.63 325.50,350.05 327.00,349.48 328.50,348.90" fill="none" stroke="#ffa068" stroke-width="2.3" stroke-linejoin="round" stroke-linecap="round" />
<polyline points="72.00,432.30 73.50,432.02 75.00,431.74 76.50,431.46 78.00,431.17 79.50,430.87 81.00,430.57 82.50,430.27 84.00,429.96 85.50,429.65 87.00,429.33 88.50,429.01 90.00,428.69 91.50,428.36 93.00,428.03 94.50,427.69 96.00,427.36 97.50,427.01 99.00,426.67 100.50,426.32 102.00,425.96 103.50,425.61 105.00,425.25 106.50,424.88 108.00,424.51 109.50,424.14 111.00,423.77 112.50,423.40 114.00,423.02 115.50,422.63 117.00,422.25 118.50,421.86 120.00,421.47 121.50,421.08 123.00,420.68 124.50,420.29 126.00,419.89 127.50,419.48 129.00,419.08 130.50,418.67 132.00,418.26 133.50,417.85 135.00,417.43 136.50,417.01 138.00,416.57 139.50,416.13 141.00,415.67 142.50,415.21 144.00,414.73 145.50,414.25 147.00,413.76 148.50,413.27 150.00,412.77 151.50,412.27 153.00,411.76 154.50,411.25 156.00,410.73 157.50,410.21 159.00,409.70 160.50,409.18 162.00,408.66 163.50,408.14 165.00,407.63 166.50,407.11 168.00,406.60 169.50,406.09 171.00,405.59 172.50,405.09 174.00,404.60 175.50,404.11 177.00,403.63 178.50,403.16 180.00,402.70 181.50,402.24 183.00,401.79 184.50,401.35 186.00,400.91 187.50,400.47 189.00,400.04 190.50,399.61 192.00,399.19 193.50,398.76 195.00,398.34 196.50,397.92 198.00,397.50 199.50,397.08 201.00,396.67 202.50,396.25 204.00,395.83 205.50,395.41 207.00,394.99 208.50,394.56 210.00,394.14 211.50,393.71 213.00,393.28 214.50,392.84 216.00,392.40 217.50,391.95 219.00,391.50 220.50,391.05 222.00,390.59 223.50,390.14 225.00,389.68 226.50,389.22 228.00,388.77 229.50,388.31 231.00,387.85 232.50,387.39 234.00,386.92 235.50,386.46 237.00,385.98 238.50,385.51 240.00,385.03 241.50,384.55 243.00,384.06 244.50,383.56 246.00,383.06 247.50,382.55 249.00,382.04 250.50,381.52 252.00,380.99 253.50,380.45 255.00,379.90 256.50,379.34 258.00,378.76 259.50,378.17 261.00,377.56 262.50,376.94 264.00,376.32 265.50,375.68 267.00,375.03 268.50,374.38 270.00,373.73 271.50,373.07 273.00,372.42 274.50,371.76 276.00,371.11 277.50,370.46 279.00,369.82 280.50,369.19 282.00,368.56 283.50,367.93 285.00,367.29 286.50,366.66 288.00,366.03 289.50,365.40 291.00,364.76 292.50,364.13 294.00,363.50 295.50,362.87 297.00,362.23 298.50,361.60 300.00,360.97 301.50,360.33 303.00,359.70 304.50,359.06 306.00,358.43 307.50,357.80 309.00,357.16 310.50,356.53 312.00,355.89 313.50,355.26 315.00,354.62 316.50,353.99 318.00,353.35 319.50,352.72 321.00,352.08 322.50,351.45 324.00,350.81 325.50,350.17 327.00,349.54 328.50,348.90" fill="none" stroke="#ffc468" stroke-width="2.3" stroke-linejoin="round" stroke-linecap="round" />
<polyline points="72.00,444.00 73.50,443.68 75.00,443.35 76.50,443.01 78.00,442.67 79.50,442.33 81.00,441.98 82.50,441.62 84.00,441.26 85.50,440.89 87.00,440.52 88.50,440.15 90.00,439.77 91.50,439.39 93.00,439.00 94.50,438.61 96.00,438.21 97.50,437.81 99.00,437.40 100.50,436.99 102.00,436.58 103.50,436.16 105.00,435.74 106.50,435.31 108.00,434.89 109.50,434.45 111.00,434.02 112.50,433.58 114.00,433.13 115.50,432.69 117.00,432.24 118.50,431.78 120.00,431.33 121.50,430.87 123.00,430.41 124.50,429.94 126.00,429.47 127.50,429.00 129.00,428.53 130.50,428.05 132.00,427.57 133.50,427.09 135.00,426.61 136.50,426.11 138.00,425.60 139.50,425.07 141.00,424.54 142.50,423.99 144.00,423.44 145.50,422.87 147.00,422.30 148.50,421.72 150.00,421.14 151.50,420.54 153.00,419.95 154.50,419.35 156.00,418.74 157.50,418.14 159.00,417.53 160.50,416.92 162.00,416.32 163.50,415.71 165.00,415.11 166.50,414.51 168.00,413.91 169.50,413.32 171.00,412.74 172.50,412.16 174.00,411.59 175.50,411.03 177.00,410.47 178.50,409.93 180.00,409.40 181.50,408.88 183.00,408.36 184.50,407.86 186.00,407.36 187.50,406.86 189.00,406.37 190.50,405.89 192.00,405.41 193.50,404.93 195.00,404.46 196.50,403.99 198.00,403.52 199.50,403.05 201.00,402.58 202.50,402.11 204.00,401.64 205.50,401.17 207.00,400.69 208.50,400.21 210.00,399.73 211.50,399.25 213.00,398.76 214.50,398.27 216.00,397.77 217.50,397.26 219.00,396.75 220.50,396.23 222.00,395.70 223.50,395.18 225.00,394.65 226.50,394.12 228.00,393.59 229.50,393.05 231.00,392.51 232.50,391.97 234.00,391.43 235.50,390.88 237.00,390.33 238.50,389.77 240.00,389.21 241.50,388.64 243.00,388.07 244.50,387.50 246.00,386.92 247.50,386.33 249.00,385.74 250.50,385.14 252.00,384.53 253.50,383.92 255.00,383.30 256.50,382.67 258.00,382.03 259.50,381.37 261.00,380.70 262.50,380.02 264.00,379.34 265.50,378.64 267.00,377.94 268.50,377.24 270.00,376.53 271.50,375.82 273.00,375.10 274.50,374.39 276.00,373.68 277.50,372.97 279.00,372.27 280.50,371.57 282.00,370.87 283.50,370.17 285.00,369.47 286.50,368.77 288.00,368.07 289.50,367.37 291.00,366.67 292.50,365.96 294.00,365.26 295.50,364.56 297.00,363.85 298.50,363.15 300.00,362.44 301.50,361.74 303.00,361.03 304.50,360.32 306.00,359.61 307.50,358.90 309.00,358.20 310.50,357.48 312.00,356.77 313.50,356.06 315.00,355.35 316.50,354.64 318.00,353.92 319.50,353.21 321.00,352.49 322.50,351.77 324.00,351.06 325.50,350.34 327.00,349.62 328.50,348.90" fill="none" stroke="#eaf068" stroke-width="2.3" stroke-linejoin="round" stroke-linecap="round" />
<polyline points="72.00,463.00 73.50,462.47 75.00,461.94 76.50,461.41 78.00,460.87 79.50,460.33 81.00,459.79 82.50,459.24 84.00,458.69 85.50,458.14 87.00,457.59 88.50,457.03 90.00,456.47 91.50,455.91 93.00,455.34 94.50,454.78 96.00,454.21 97.50,453.63 99.00,453.06 100.50,452.48 102.00,451.90 103.50,451.31 105.00,450.73 106.50,450.14 108.00,449.55 109.50,448.96 111.00,448.36 112.50,447.77 114.00,447.17 115.50,446.56 117.00,445.96 118.50,445.35 120.00,444.74 121.50,444.13 123.00,443.52 124.50,442.91 126.00,442.29 127.50,441.67 129.00,441.05 130.50,440.43 132.00,439.80 133.50,439.18 135.00,438.55 136.50,437.91 138.00,437.26 139.50,436.61 141.00,435.95 142.50,435.28 144.00,434.60 145.50,433.92 147.00,433.24 148.50,432.54 150.00,431.85 151.50,431.15 153.00,430.45 154.50,429.75 156.00,429.05 157.50,428.34 159.00,427.64 160.50,426.94 162.00,426.24 163.50,425.54 165.00,424.85 166.50,424.15 168.00,423.47 169.50,422.78 171.00,422.11 172.50,421.44 174.00,420.77 175.50,420.12 177.00,419.47 178.50,418.83 180.00,418.20 181.50,417.58 183.00,416.97 184.50,416.36 186.00,415.77 187.50,415.18 189.00,414.60 190.50,414.02 192.00,413.44 193.50,412.87 195.00,412.31 196.50,411.74 198.00,411.18 199.50,410.62 201.00,410.06 202.50,409.50 204.00,408.93 205.50,408.37 207.00,407.80 208.50,407.23 210.00,406.66 211.50,406.09 213.00,405.50 214.50,404.92 216.00,404.32 217.50,403.72 219.00,403.11 220.50,402.49 222.00,401.87 223.50,401.25 225.00,400.63 226.50,400.00 228.00,399.37 229.50,398.74 231.00,398.10 232.50,397.46 234.00,396.82 235.50,396.17 237.00,395.52 238.50,394.87 240.00,394.21 241.50,393.54 243.00,392.87 244.50,392.20 246.00,391.52 247.50,390.83 249.00,390.14 250.50,389.44 252.00,388.73 253.50,388.02 255.00,387.30 256.50,386.57 258.00,385.82 259.50,385.06 261.00,384.29 262.50,383.50 264.00,382.71 265.50,381.91 267.00,381.10 268.50,380.29 270.00,379.48 271.50,378.66 273.00,377.85 274.50,377.03 276.00,376.23 277.50,375.42 279.00,374.63 280.50,373.84 282.00,373.05 283.50,372.27 285.00,371.48 286.50,370.70 288.00,369.91 289.50,369.13 291.00,368.34 292.50,367.56 294.00,366.78 295.50,365.99 297.00,365.21 298.50,364.43 300.00,363.65 301.50,362.87 303.00,362.09 304.50,361.31 306.00,360.53 307.50,359.75 309.00,358.97 310.50,358.19 312.00,357.42 313.50,356.64 315.00,355.86 316.50,355.09 318.00,354.31 319.50,353.54 321.00,352.76 322.50,351.99 324.00,351.22 325.50,350.44 327.00,349.67 328.50,348.90" fill="none" stroke="#c4f068" stroke-width="2.3" stroke-linejoin="round" stroke-linecap="round" />
<polyline points="100.00,468.00 101.50,466.95 103.00,465.94 104.50,464.97 106.00,464.06 107.50,463.22 109.00,462.46 110.50,461.78 112.00,461.17 113.50,460.61 115.00,460.08 116.50,459.59 118.00,459.12 119.50,458.66 121.00,458.21 122.50,457.76 124.00,457.31 125.50,456.85 127.00,456.42 128.50,456.02 130.00,455.63 131.50,455.24 133.00,454.81 134.50,454.33 136.00,453.79 137.50,453.07 139.00,451.90 140.50,450.57 142.00,449.45 143.50,448.91 145.00,449.00 146.50,449.29 148.00,449.64 149.50,449.91 151.00,449.98 152.50,449.44 154.00,448.31 155.50,446.81 157.00,445.17 158.50,443.63 160.00,442.40 161.50,441.46 163.00,440.59 164.50,439.78 166.00,439.00 167.50,438.24 169.00,437.47 170.50,436.67 172.00,435.83 173.50,434.93 175.00,434.00 176.50,433.06 178.00,432.10 179.50,431.16 181.00,430.23 182.50,429.32 184.00,428.46 185.50,427.62 187.00,426.80 188.50,425.99 190.00,425.20 191.50,424.41 193.00,423.63 194.50,422.86 196.00,422.09 197.50,421.32 199.00,420.56 200.50,419.81 202.00,419.07 203.50,418.33 205.00,417.60 206.50,416.88 208.00,416.16 209.50,415.46 211.00,414.75 212.50,414.06 214.00,413.36 215.50,412.65 217.00,411.95 218.50,411.23 220.00,410.50 221.50,409.76 223.00,409.03 224.50,408.29 226.00,407.54 227.50,406.80 229.00,406.05 230.50,405.30 232.00,404.55 233.50,403.80 235.00,403.04 236.50,402.27 238.00,401.51 239.50,400.74 241.00,399.96 242.50,399.19 244.00,398.40 245.50,397.61 247.00,396.82 248.50,396.02 250.00,395.22 251.50,394.41 253.00,393.60 254.50,392.78 256.00,391.95 257.50,391.11 259.00,390.26 260.50,389.39 262.00,388.52 263.50,387.65 265.00,386.76 266.50,385.87 268.00,384.98 269.50,384.08 271.00,383.18 272.50,382.28 274.00,381.38 275.50,380.48 277.00,379.58 278.50,378.69 280.00,377.80 281.50,376.91 283.00,376.02 284.50,375.14 286.00,374.25 287.50,373.36 289.00,372.47 290.50,371.58 292.00,370.69 293.50,369.80 295.00,368.91 296.50,368.02 298.00,367.13 299.50,366.24 301.00,365.34 302.50,364.45 304.00,363.56 305.50,362.66 307.00,361.77 308.50,360.87 310.00,359.98 311.50,359.08 313.00,358.19 314.50,357.29 316.00,356.39 317.50,355.50 319.00,354.60 320.50,353.70 322.00,352.80 323.50,351.90 325.00,351.00 326.50,350.10 328.00,349.20 328.50,348.90" fill="none" stroke="#a4f070" stroke-width="2.3" stroke-linejoin="round" stroke-linecap="round" />
<polyline points="131.00,471.80 132.50,471.10 134.00,470.33 135.50,468.52 137.00,467.48 138.50,466.35 140.00,466.02 141.50,465.48 143.00,465.16 144.50,462.77 146.00,462.00 147.50,462.13 149.00,461.28 150.50,459.42 152.00,458.49 153.50,457.48 155.00,457.71 156.50,456.17 158.00,455.21 159.50,455.09 161.00,453.23 162.50,453.09 164.00,451.41 165.50,450.48 167.00,450.68 168.50,450.02 170.00,448.55 171.50,447.56 173.00,447.21 174.50,445.20 176.00,444.68 177.50,444.92 179.00,444.12 180.50,441.59 182.00,440.63 183.50,441.12 185.00,439.65 186.50,439.31 188.00,438.20 189.50,436.95 191.00,436.51 192.50,435.41 194.00,433.44 195.50,433.39 197.00,432.47 198.50,431.55 200.00,430.62 201.50,429.69 203.00,428.76 204.50,427.82 206.00,426.88 207.50,425.94 209.00,425.00 210.50,424.05 212.00,423.10 213.50,422.15 215.00,421.20 216.50,420.24 218.00,419.28 219.50,418.32 221.00,417.36 222.50,416.39 224.00,415.41 225.50,414.43 227.00,413.45 228.50,412.46 230.00,411.46 231.50,410.47 233.00,409.47 234.50,408.47 236.00,407.47 237.50,406.47 239.00,405.47 240.50,404.47 242.00,403.48 243.50,402.48 245.00,401.49 246.50,400.50 248.00,399.52 249.50,398.54 251.00,397.56 252.50,396.60 254.00,395.64 255.50,394.68 257.00,393.74 258.50,392.80 260.00,391.87 261.50,390.94 263.00,390.02 264.50,389.10 266.00,388.18 267.50,387.26 269.00,386.35 270.50,385.44 272.00,384.52 273.50,383.61 275.00,382.69 276.50,381.77 278.00,380.84 279.50,379.91 281.00,378.98 282.50,378.04 284.00,377.10 285.50,376.17 287.00,375.23 288.50,374.29 290.00,373.35 291.50,372.41 293.00,371.47 294.50,370.52 296.00,369.58 297.50,368.64 299.00,367.69 300.50,366.74 302.00,365.80 303.50,364.85 305.00,363.90 306.50,362.95 308.00,362.00 309.50,361.05 311.00,360.10 312.50,359.14 314.00,358.19 315.50,357.23 317.00,356.27 318.50,355.32 320.00,354.36 321.50,353.40 323.00,352.44 324.50,351.47 326.00,350.51 327.50,349.54 328.50,348.90" fill="none" stroke="#8cf078" stroke-width="2.3" stroke-linejoin="round" stroke-linecap="round" />
<polyline points="147.20,472.14 148.70,471.72 150.20,470.37 151.70,468.98 153.20,467.76 154.70,466.94 156.20,464.83 157.70,463.85 159.20,463.11 160.70,462.29 162.20,460.22 163.70,458.78 165.20,457.80 166.70,456.93 168.20,455.15 169.70,454.94 171.20,454.25 172.70,452.09 174.20,452.02 175.70,449.89 177.20,448.92 178.70,448.53 180.20,446.85 181.70,445.28 183.20,444.51 184.70,442.78 186.20,442.01 187.70,439.89 189.20,438.41 190.70,438.13 192.20,436.79 193.70,435.48 195.20,433.68 196.70,433.98 198.20,431.35 199.70,431.76 201.20,429.48 202.70,428.33 204.20,428.45 205.70,426.63 207.20,425.63 208.70,424.65 210.20,423.69 211.70,422.75 213.20,421.83 214.70,420.92 216.20,420.03 217.70,419.14 219.20,418.26 220.70,417.39 222.20,416.52 223.70,415.66 225.20,414.79 226.70,413.93 228.20,413.05 229.70,412.18 231.20,411.30 232.70,410.43 234.20,409.57 235.70,408.71 237.20,407.86 238.70,407.02 240.20,406.17 241.70,405.33 243.20,404.49 244.70,403.64 246.20,402.79 247.70,401.93 249.20,401.06 250.70,400.18 252.20,399.30 253.70,398.39 255.20,397.48 256.70,396.54 258.20,395.60 259.70,394.64 261.20,393.67 262.70,392.69 264.20,391.70 265.70,390.70 267.20,389.70 268.70,388.69 270.20,387.68 271.70,386.67 273.20,385.65 274.70,384.64 276.20,383.63 277.70,382.63 279.20,381.63 280.70,380.64 282.20,379.64 283.70,378.65 285.20,377.66 286.70,376.66 288.20,375.67 289.70,374.68 291.20,373.68 292.70,372.69 294.20,371.70 295.70,370.70 297.20,369.71 298.70,368.71 300.20,367.72 301.70,366.72 303.20,365.73 304.70,364.73 306.20,363.73 307.70,362.74 309.20,361.74 310.70,360.75 312.20,359.75 313.70,358.75 315.20,357.75 316.70,356.76 318.20,355.76 319.70,354.76 321.20,353.76 322.70,352.76 324.20,351.76 325.70,350.77 327.20,349.77 328.50,348.90" fill="none" stroke="#80f088" stroke-width="2.3" stroke-linejoin="round" stroke-linecap="round" />
<polyline points="160.00,473.83 161.50,471.97 163.00,471.04 164.50,468.26 166.00,468.12 167.50,466.33 169.00,464.40 170.50,463.61 172.00,461.40 173.50,461.31 175.00,459.73 176.50,457.47 178.00,456.39 179.50,455.25 181.00,454.31 182.50,452.62 184.00,451.49 185.50,450.72 187.00,448.77 188.50,448.65 190.00,447.00 191.50,445.82 193.00,444.65 194.50,443.49 196.00,442.35 197.50,441.22 199.00,440.10 200.50,438.99 202.00,437.89 203.50,436.79 205.00,435.71 206.50,434.63 208.00,433.55 209.50,432.48 211.00,431.41 212.50,430.34 214.00,429.28 215.50,428.21 217.00,427.14 218.50,426.07 220.00,425.00 221.50,423.93 223.00,422.86 224.50,421.79 226.00,420.73 227.50,419.67 229.00,418.61 230.50,417.55 232.00,416.50 233.50,415.45 235.00,414.40 236.50,413.36 238.00,412.31 239.50,411.27 241.00,410.22 242.50,409.18 244.00,408.14 245.50,407.10 247.00,406.06 248.50,405.02 250.00,403.97 251.50,402.93 253.00,401.89 254.50,400.85 256.00,399.80 257.50,398.76 259.00,397.73 260.50,396.69 262.00,395.65 263.50,394.62 265.00,393.58 266.50,392.55 268.00,391.51 269.50,390.48 271.00,389.44 272.50,388.41 274.00,387.37 275.50,386.33 277.00,385.29 278.50,384.25 280.00,383.20 281.50,382.15 283.00,381.10 284.50,380.05 286.00,379.00 287.50,377.95 289.00,376.90 290.50,375.85 292.00,374.79 293.50,373.74 295.00,372.68 296.50,371.63 298.00,370.57 299.50,369.52 301.00,368.46 302.50,367.40 304.00,366.34 305.50,365.28 307.00,364.22 308.50,363.15 310.00,362.09 311.50,361.03 313.00,359.96 314.50,358.90 316.00,357.83 317.50,356.76 319.00,355.69 320.50,354.62 322.00,353.55 323.50,352.48 325.00,351.41 326.50,350.33 328.00,349.26 328.50,348.90" fill="none" stroke="#78f0a0" stroke-width="2.3" stroke-linejoin="round" stroke-linecap="round" />
<polyline points="174.00,471.41 175.50,469.91 177.00,468.78 178.50,466.60 180.00,466.49 181.50,463.66 183.00,463.01 184.50,462.32 186.00,459.40 187.50,458.96 189.00,458.02 190.50,456.61 192.00,454.00 193.50,453.05 195.00,452.16 196.50,450.13 198.00,449.12 199.50,447.35 201.00,444.70 202.50,443.80 204.00,443.33 205.50,441.11 207.00,439.59 208.50,437.88 210.00,436.13 211.50,435.56 213.00,433.61 214.50,433.08 216.00,431.06 217.50,429.77 219.00,428.51 220.50,427.28 222.00,426.07 223.50,424.89 225.00,423.73 226.50,422.59 228.00,421.47 229.50,420.36 231.00,419.28 232.50,418.22 234.00,417.19 235.50,416.18 237.00,415.18 238.50,414.20 240.00,413.23 241.50,412.27 243.00,411.31 244.50,410.36 246.00,409.41 247.50,408.45 249.00,407.49 250.50,406.51 252.00,405.53 253.50,404.52 255.00,403.50 256.50,402.46 258.00,401.42 259.50,400.36 261.00,399.30 262.50,398.24 264.00,397.17 265.50,396.09 267.00,395.01 268.50,393.92 270.00,392.83 271.50,391.74 273.00,390.64 274.50,389.54 276.00,388.44 277.50,387.34 279.00,386.24 280.50,385.13 282.00,384.03 283.50,382.92 285.00,381.82 286.50,380.71 288.00,379.60 289.50,378.49 291.00,377.37 292.50,376.26 294.00,375.14 295.50,374.02 297.00,372.90 298.50,371.78 300.00,370.65 301.50,369.53 303.00,368.40 304.50,367.27 306.00,366.14 307.50,365.00 309.00,363.87 310.50,362.73 312.00,361.59 313.50,360.45 315.00,359.30 316.50,358.15 318.00,357.01 319.50,355.85 321.00,354.70 322.50,353.55 324.00,352.39 325.50,351.23 327.00,350.07 328.50,348.90" fill="none" stroke="#74f0c0" stroke-width="2.3" stroke-linejoin="round" stroke-linecap="round" />
<polyline points="192.70,470.68 194.20,470.54 195.70,467.50 197.20,467.19 198.70,464.90 200.20,463.79 201.70,461.64 203.20,459.49 204.70,459.29 206.20,457.12 207.70,454.73 209.20,453.79 210.70,451.47 212.20,450.19 213.70,448.91 215.20,447.32 216.70,444.80 218.20,443.35 219.70,442.23 221.20,440.76 222.70,439.81 224.20,437.76 225.70,436.65 227.20,434.60 228.70,433.14 230.20,431.67 231.70,430.21 233.20,428.76 234.70,427.32 236.20,425.88 237.70,424.45 239.20,423.04 240.70,421.63 242.20,420.23 243.70,418.85 245.20,417.48 246.70,416.12 248.20,414.78 249.70,413.45 251.20,412.14 252.70,410.85 254.20,409.57 255.70,408.32 257.20,407.09 258.70,405.89 260.20,404.71 261.70,403.54 263.20,402.40 264.70,401.27 266.20,400.15 267.70,399.03 269.20,397.92 270.70,396.80 272.20,395.69 273.70,394.57 275.20,393.43 276.70,392.29 278.20,391.12 279.70,389.94 281.20,388.74 282.70,387.54 284.20,386.33 285.70,385.12 287.20,383.91 288.70,382.69 290.20,381.47 291.70,380.25 293.20,379.02 294.70,377.78 296.20,376.55 297.70,375.31 299.20,374.07 300.70,372.82 302.20,371.57 303.70,370.31 305.20,369.05 306.70,367.79 308.20,366.52 309.70,365.24 311.20,363.97 312.70,362.68 314.20,361.40 315.70,360.11 317.20,358.81 318.70,357.51 320.20,356.21 321.70,354.90 323.20,353.58 324.70,352.26 326.20,350.94 327.70,349.61 328.50,348.90" fill="none" stroke="#70f0f0" stroke-width="2.3" stroke-linejoin="round" stroke-linecap="round" />
<polyline points="205.00,470.77 206.50,468.71 208.00,467.15 209.50,464.96 211.00,463.84 212.50,462.60 214.00,461.24 215.50,458.41 217.00,457.53 218.50,455.88 220.00,454.03 221.50,452.79 223.00,450.37 224.50,448.40 226.00,446.83 227.50,444.14 229.00,442.39 230.50,441.52 232.00,439.54 233.50,437.30 235.00,435.86 236.50,434.59 238.00,432.65 239.50,431.03 241.00,429.44 242.50,427.89 244.00,426.36 245.50,424.86 247.00,423.39 248.50,421.92 250.00,420.48 251.50,419.04 253.00,417.61 254.50,416.18 256.00,414.75 257.50,413.34 259.00,411.94 260.50,410.55 262.00,409.18 263.50,407.81 265.00,406.45 266.50,405.10 268.00,403.76 269.50,402.42 271.00,401.08 272.50,399.74 274.00,398.40 275.50,397.06 277.00,395.71 278.50,394.36 280.00,393.00 281.50,391.64 283.00,390.27 284.50,388.91 286.00,387.55 287.50,386.19 289.00,384.82 290.50,383.46 292.00,382.10 293.50,380.73 295.00,379.37 296.50,378.01 298.00,376.64 299.50,375.28 301.00,373.91 302.50,372.55 304.00,371.19 305.50,369.82 307.00,368.46 308.50,367.09 310.00,365.73 311.50,364.37 313.00,363.00 314.50,361.64 316.00,360.27 317.50,358.91 319.00,357.54 320.50,356.18 322.00,354.81 323.50,353.45 325.00,352.09 326.50,350.72 328.00,349.36 328.50,348.90" fill="none" stroke="#a8c8ff" stroke-width="2.3" stroke-linejoin="round" stroke-linecap="round" />
<polyline points="72.00,459.50 75.60,463.90 79.30,461.00 83.00,455.50 86.60,452.60 91.70,457.30 96.80,454.40 100.50,451.50 104.10,451.10 108.00,447.80 112.00,448.50 116.00,445.50 120.00,445.00 124.00,441.80 128.00,441.50 134.40,438.80" fill="none" stroke="#b0f070" stroke-width="1.8" stroke-linejoin="round" stroke-linecap="round" />
<line x1="72.00" y1="413.20" x2="134.40" y2="397.90" stroke="#000" stroke-width="2.4" stroke-dasharray="4.5,3"/>
<line x1="72.00" y1="424.20" x2="134.40" y2="409.70" stroke="#000" stroke-width="2.4" stroke-dasharray="4.5,3"/>
<line x1="72.00" y1="432.30" x2="134.40" y2="417.60" stroke="#000" stroke-width="2.4" stroke-dasharray="4.5,3"/>
<line x1="72.00" y1="444.00" x2="134.40" y2="426.80" stroke="#000" stroke-width="2.4" stroke-dasharray="4.5,3"/>
<line x1="72.00" y1="463.00" x2="134.40" y2="438.80" stroke="#000" stroke-width="2.4" stroke-dasharray="4.5,3"/>
<line x1="100.00" y1="469.50" x2="196.20" y2="432.50" stroke="#000" stroke-width="2.4" stroke-dasharray="4.5,3"/>
<line x1="131.00" y1="471.50" x2="195.00" y2="433.70" stroke="#000" stroke-width="2.4" stroke-dasharray="4.5,3"/>
<line x1="147.20" y1="472.20" x2="205.60" y2="426.70" stroke="#000" stroke-width="2.4" stroke-dasharray="4.5,3"/>
<line x1="174.00" y1="471.50" x2="215.50" y2="431.50" stroke="#000" stroke-width="2.4" stroke-dasharray="4.5,3"/>
<line x1="192.70" y1="471.50" x2="227.00" y2="434.80" stroke="#000" stroke-width="2.4" stroke-dasharray="4.5,3"/>
<line x1="205.00" y1="471.00" x2="237.50" y2="433.20" stroke="#000" stroke-width="2.4" stroke-dasharray="4.5,3"/>
</g>
<line x1="75.20" y1="407.40" x2="134.50" y2="391.80" stroke="#000" stroke-width="2.2" />
<line x1="141.70" y1="471.30" x2="192.80" y2="432.60" stroke="#ff00cc" stroke-width="2.4" />
<rect x="72" y="282.5" width="256.50" height="192.80" fill="none" stroke="#111" stroke-width="1.5"/>
<line x1="72.00" y1="475.30" x2="72.00" y2="467.30" stroke="#000" stroke-width="1.5" />
<line x1="72.00" y1="282.50" x2="72.00" y2="290.50" stroke="#000" stroke-width="1.5" />
<line x1="97.74" y1="475.30" x2="97.74" y2="471.10" stroke="#000" stroke-width="1.3" />
<line x1="97.74" y1="282.50" x2="97.74" y2="286.70" stroke="#000" stroke-width="1.3" />
<line x1="112.79" y1="475.30" x2="112.79" y2="471.10" stroke="#000" stroke-width="1.3" />
<line x1="112.79" y1="282.50" x2="112.79" y2="286.70" stroke="#000" stroke-width="1.3" />
<line x1="123.48" y1="475.30" x2="123.48" y2="471.10" stroke="#000" stroke-width="1.3" />
<line x1="123.48" y1="282.50" x2="123.48" y2="286.70" stroke="#000" stroke-width="1.3" />
<line x1="131.76" y1="475.30" x2="131.76" y2="471.10" stroke="#000" stroke-width="1.3" />
<line x1="131.76" y1="282.50" x2="131.76" y2="286.70" stroke="#000" stroke-width="1.3" />
<line x1="138.53" y1="475.30" x2="138.53" y2="471.10" stroke="#000" stroke-width="1.3" />
<line x1="138.53" y1="282.50" x2="138.53" y2="286.70" stroke="#000" stroke-width="1.3" />
<line x1="144.26" y1="475.30" x2="144.26" y2="471.10" stroke="#000" stroke-width="1.3" />
<line x1="144.26" y1="282.50" x2="144.26" y2="286.70" stroke="#000" stroke-width="1.3" />
<line x1="149.21" y1="475.30" x2="149.21" y2="471.10" stroke="#000" stroke-width="1.3" />
<line x1="149.21" y1="282.50" x2="149.21" y2="286.70" stroke="#000" stroke-width="1.3" />
<line x1="153.59" y1="475.30" x2="153.59" y2="471.10" stroke="#000" stroke-width="1.3" />
<line x1="153.59" y1="282.50" x2="153.59" y2="286.70" stroke="#000" stroke-width="1.3" />
<text x="97.74" y="487.50" font-size="12.5" text-anchor="middle" fill="#000" stroke="#000" stroke-width="0.25" >2</text>
<text x="123.48" y="487.50" font-size="12.5" text-anchor="middle" fill="#000" stroke="#000" stroke-width="0.25" >4</text>
<text x="138.53" y="487.50" font-size="12.5" text-anchor="middle" fill="#000" stroke="#000" stroke-width="0.25" >6</text>
<line x1="157.50" y1="475.30" x2="157.50" y2="467.30" stroke="#000" stroke-width="1.5" />
<line x1="157.50" y1="282.50" x2="157.50" y2="290.50" stroke="#000" stroke-width="1.5" />
<line x1="183.24" y1="475.30" x2="183.24" y2="471.10" stroke="#000" stroke-width="1.3" />
<line x1="183.24" y1="282.50" x2="183.24" y2="286.70" stroke="#000" stroke-width="1.3" />
<line x1="198.29" y1="475.30" x2="198.29" y2="471.10" stroke="#000" stroke-width="1.3" />
<line x1="198.29" y1="282.50" x2="198.29" y2="286.70" stroke="#000" stroke-width="1.3" />
<line x1="208.98" y1="475.30" x2="208.98" y2="471.10" stroke="#000" stroke-width="1.3" />
<line x1="208.98" y1="282.50" x2="208.98" y2="286.70" stroke="#000" stroke-width="1.3" />
<line x1="217.26" y1="475.30" x2="217.26" y2="471.10" stroke="#000" stroke-width="1.3" />
<line x1="217.26" y1="282.50" x2="217.26" y2="286.70" stroke="#000" stroke-width="1.3" />
<line x1="224.03" y1="475.30" x2="224.03" y2="471.10" stroke="#000" stroke-width="1.3" />
<line x1="224.03" y1="282.50" x2="224.03" y2="286.70" stroke="#000" stroke-width="1.3" />
<line x1="229.76" y1="475.30" x2="229.76" y2="471.10" stroke="#000" stroke-width="1.3" />
<line x1="229.76" y1="282.50" x2="229.76" y2="286.70" stroke="#000" stroke-width="1.3" />
<line x1="234.71" y1="475.30" x2="234.71" y2="471.10" stroke="#000" stroke-width="1.3" />
<line x1="234.71" y1="282.50" x2="234.71" y2="286.70" stroke="#000" stroke-width="1.3" />
<line x1="239.09" y1="475.30" x2="239.09" y2="471.10" stroke="#000" stroke-width="1.3" />
<line x1="239.09" y1="282.50" x2="239.09" y2="286.70" stroke="#000" stroke-width="1.3" />
<text x="183.24" y="487.50" font-size="12.5" text-anchor="middle" fill="#000" stroke="#000" stroke-width="0.25" >2</text>
<text x="208.98" y="487.50" font-size="12.5" text-anchor="middle" fill="#000" stroke="#000" stroke-width="0.25" >4</text>
<text x="224.03" y="487.50" font-size="12.5" text-anchor="middle" fill="#000" stroke="#000" stroke-width="0.25" >6</text>
<line x1="243.00" y1="475.30" x2="243.00" y2="467.30" stroke="#000" stroke-width="1.5" />
<line x1="243.00" y1="282.50" x2="243.00" y2="290.50" stroke="#000" stroke-width="1.5" />
<line x1="268.74" y1="475.30" x2="268.74" y2="471.10" stroke="#000" stroke-width="1.3" />
<line x1="268.74" y1="282.50" x2="268.74" y2="286.70" stroke="#000" stroke-width="1.3" />
<line x1="283.79" y1="475.30" x2="283.79" y2="471.10" stroke="#000" stroke-width="1.3" />
<line x1="283.79" y1="282.50" x2="283.79" y2="286.70" stroke="#000" stroke-width="1.3" />
<line x1="294.48" y1="475.30" x2="294.48" y2="471.10" stroke="#000" stroke-width="1.3" />
<line x1="294.48" y1="282.50" x2="294.48" y2="286.70" stroke="#000" stroke-width="1.3" />
<line x1="302.76" y1="475.30" x2="302.76" y2="471.10" stroke="#000" stroke-width="1.3" />
<line x1="302.76" y1="282.50" x2="302.76" y2="286.70" stroke="#000" stroke-width="1.3" />
<line x1="309.53" y1="475.30" x2="309.53" y2="471.10" stroke="#000" stroke-width="1.3" />
<line x1="309.53" y1="282.50" x2="309.53" y2="286.70" stroke="#000" stroke-width="1.3" />
<line x1="315.26" y1="475.30" x2="315.26" y2="471.10" stroke="#000" stroke-width="1.3" />
<line x1="315.26" y1="282.50" x2="315.26" y2="286.70" stroke="#000" stroke-width="1.3" />
<line x1="320.21" y1="475.30" x2="320.21" y2="471.10" stroke="#000" stroke-width="1.3" />
<line x1="320.21" y1="282.50" x2="320.21" y2="286.70" stroke="#000" stroke-width="1.3" />
<line x1="324.59" y1="475.30" x2="324.59" y2="471.10" stroke="#000" stroke-width="1.3" />
<line x1="324.59" y1="282.50" x2="324.59" y2="286.70" stroke="#000" stroke-width="1.3" />
<text x="268.74" y="487.50" font-size="12.5" text-anchor="middle" fill="#000" stroke="#000" stroke-width="0.25" >2</text>
<text x="294.48" y="487.50" font-size="12.5" text-anchor="middle" fill="#000" stroke="#000" stroke-width="0.25" >4</text>
<text x="309.53" y="487.50" font-size="12.5" text-anchor="middle" fill="#000" stroke="#000" stroke-width="0.25" >6</text>
<line x1="328.50" y1="475.30" x2="328.50" y2="467.30" stroke="#000" stroke-width="1.5" />
<line x1="328.50" y1="282.50" x2="328.50" y2="290.50" stroke="#000" stroke-width="1.5" />
<text x="71.50" y="504.50" font-size="18" text-anchor="middle" fill="#000" stroke="#000" stroke-width="0.25" >0.1</text>
<text x="157.80" y="504.50" font-size="18" text-anchor="middle" fill="#000" stroke="#000" stroke-width="0.25" >1</text>
<text x="243.30" y="504.50" font-size="18" text-anchor="middle" fill="#000" stroke="#000" stroke-width="0.25" >10</text>
<text x="328.80" y="504.50" font-size="18" text-anchor="middle" fill="#000" stroke="#000" stroke-width="0.25" >100</text>
<line x1="72.00" y1="475.30" x2="80.00" y2="475.30" stroke="#000" stroke-width="1.5" />
<line x1="328.50" y1="475.30" x2="320.50" y2="475.30" stroke="#000" stroke-width="1.5" />
<text x="53.73" y="484.90" font-size="17.5" text-anchor="end" fill="#000" stroke="#000" stroke-width="0.25" >10</text>
<text x="64.20" y="473.50" font-size="12" text-anchor="end" fill="#000" stroke="#000" stroke-width="0.25" >-5</text>
<line x1="72.00" y1="453.88" x2="80.00" y2="453.88" stroke="#000" stroke-width="1.5" />
<line x1="328.50" y1="453.88" x2="320.50" y2="453.88" stroke="#000" stroke-width="1.5" />
<line x1="72.00" y1="432.46" x2="80.00" y2="432.46" stroke="#000" stroke-width="1.5" />
<line x1="328.50" y1="432.46" x2="320.50" y2="432.46" stroke="#000" stroke-width="1.5" />
<text x="53.73" y="442.06" font-size="17.5" text-anchor="end" fill="#000" stroke="#000" stroke-width="0.25" >10</text>
<text x="64.20" y="430.66" font-size="12" text-anchor="end" fill="#000" stroke="#000" stroke-width="0.25" >-3</text>
<line x1="72.00" y1="411.03" x2="80.00" y2="411.03" stroke="#000" stroke-width="1.5" />
<line x1="328.50" y1="411.03" x2="320.50" y2="411.03" stroke="#000" stroke-width="1.5" />
<line x1="72.00" y1="389.61" x2="80.00" y2="389.61" stroke="#000" stroke-width="1.5" />
<line x1="328.50" y1="389.61" x2="320.50" y2="389.61" stroke="#000" stroke-width="1.5" />
<text x="53.73" y="399.21" font-size="17.5" text-anchor="end" fill="#000" stroke="#000" stroke-width="0.25" >10</text>
<text x="64.20" y="387.81" font-size="12" text-anchor="end" fill="#000" stroke="#000" stroke-width="0.25" >-1</text>
<line x1="72.00" y1="368.19" x2="80.00" y2="368.19" stroke="#000" stroke-width="1.5" />
<line x1="328.50" y1="368.19" x2="320.50" y2="368.19" stroke="#000" stroke-width="1.5" />
<line x1="72.00" y1="346.77" x2="80.00" y2="346.77" stroke="#000" stroke-width="1.5" />
<line x1="328.50" y1="346.77" x2="320.50" y2="346.77" stroke="#000" stroke-width="1.5" />
<text x="57.73" y="356.37" font-size="17.5" text-anchor="end" fill="#000" stroke="#000" stroke-width="0.25" >10</text>
<text x="64.20" y="344.97" font-size="12" text-anchor="end" fill="#000" stroke="#000" stroke-width="0.25" >1</text>
<line x1="72.00" y1="325.34" x2="80.00" y2="325.34" stroke="#000" stroke-width="1.5" />
<line x1="328.50" y1="325.34" x2="320.50" y2="325.34" stroke="#000" stroke-width="1.5" />
<line x1="72.00" y1="303.92" x2="80.00" y2="303.92" stroke="#000" stroke-width="1.5" />
<line x1="328.50" y1="303.92" x2="320.50" y2="303.92" stroke="#000" stroke-width="1.5" />
<text x="57.73" y="313.52" font-size="17.5" text-anchor="end" fill="#000" stroke="#000" stroke-width="0.25" >10</text>
<text x="64.20" y="302.12" font-size="12" text-anchor="end" fill="#000" stroke="#000" stroke-width="0.25" >3</text>
<line x1="72.00" y1="282.50" x2="80.00" y2="282.50" stroke="#000" stroke-width="1.5" />
<line x1="328.50" y1="282.50" x2="320.50" y2="282.50" stroke="#000" stroke-width="1.5" />
<text x="201.00" y="523.30" font-size="18" text-anchor="middle" fill="#000" stroke="#000" stroke-width="0.25" ><tspan font-style="italic">I</tspan> (mA)</text>
<text x="0.00" y="0.00" font-size="18" text-anchor="middle" fill="#000" stroke="#000" stroke-width="0.25" transform="translate(20.2,378) rotate(-90)"><tspan font-style="italic">V</tspan> (V)</text>
<text x="248.00" y="459.60" font-size="15.6" text-anchor="start" fill="#000" stroke="#000" stroke-width="0.25" ><tspan font-style="italic">t</tspan> = 40 nm</text>
<text x="263.60" y="352.60" font-size="15.6" text-anchor="start" fill="#000" stroke="#000" stroke-width="0.25" >15 K</text>
<text x="290.50" y="394.80" font-size="15.6" text-anchor="start" fill="#000" stroke="#000" stroke-width="0.25" >2 K</text>
<g transform="translate(84.8,401.4) rotate(-15)">
<text x="0.00" y="0.00" font-size="15.6" text-anchor="start" fill="#000" stroke="#000" stroke-width="0.25" >V</text>
<path d="M25.00,-6.43 C22.00,-6.43 20.20,-0.57 17.60,-0.57 C16.00,-0.57 15.00,-1.74 15.00,-3.50 C15.00,-5.26 16.00,-6.43 17.60,-6.43 C20.20,-6.43 22.00,-0.57 25.00,-0.57" fill="none" stroke="#000" stroke-width="1.3"/>
<text x="30.60" y="0.00" font-size="15.6" text-anchor="start" fill="#000" stroke="#000" stroke-width="0.25" >I</text>
</g>
<g transform="translate(201.0,430.6) rotate(-36)">
<text x="0.00" y="0.00" font-size="15.6" text-anchor="start" fill="#ff00cc" stroke="#ff00cc" stroke-width="0.25" >V</text>
<path d="M24.30,-6.72 C21.30,-6.72 19.50,-0.48 16.90,-0.48 C15.30,-0.48 14.30,-1.73 14.30,-3.60 C14.30,-5.47 15.30,-6.72 16.90,-6.72 C19.50,-6.72 21.30,-0.48 24.30,-0.48" fill="none" stroke="#ff00cc" stroke-width="1.35"/>
<text x="29.00" y="0.00" font-size="15.6" text-anchor="start" fill="#ff00cc" stroke="#ff00cc" stroke-width="0.25" font-style="italic" >I</text>
<text x="35.00" y="-6.30" font-size="11.5" text-anchor="start" fill="#ff00cc" stroke="#ff00cc" stroke-width="0.25" >3</text>
</g>
<rect x="111.7" y="294.2" width="100.00" height="59.00" fill="#fff"/>
<line x1="111.70" y1="317.80" x2="211.70" y2="317.80" stroke="#555" stroke-width="1.5" stroke-dasharray="2.8,2.6"/>
<polyline points="125.03,297.03 131.70,302.46 138.37,307.18 145.03,316.03 148.37,320.16 151.70,328.42 158.37,334.56 165.03,339.28 171.70,340.69 178.37,341.64 211.70,341.64" fill="none" stroke="#ff2020" stroke-width="1.1" stroke-linejoin="round" stroke-linecap="round" />
<rect x="111.7" y="294.2" width="100.00" height="59.00" fill="none" stroke="#444" stroke-width="1.3"/>
<circle cx="125.03" cy="297.03" r="2.1" fill="#ff1010" />
<circle cx="131.70" cy="302.46" r="2.1" fill="#ff1010" />
<circle cx="138.37" cy="307.18" r="2.1" fill="#ff1010" />
<circle cx="145.03" cy="316.03" r="2.1" fill="#ff1010" />
<circle cx="148.37" cy="320.16" r="2.1" fill="#ff1010" />
<circle cx="151.70" cy="328.42" r="2.1" fill="#ff1010" />
<circle cx="158.37" cy="334.56" r="2.1" fill="#ff1010" />
<circle cx="165.03" cy="339.28" r="2.1" fill="#ff1010" />
<circle cx="171.70" cy="340.69" r="2.1" fill="#ff1010" />
<circle cx="178.37" cy="341.64" r="2.1" fill="#ff1010" />
<circle cx="211.70" cy="341.64" r="2.1" fill="#ff1010" />
<line x1="111.70" y1="353.20" x2="111.70" y2="349.20" stroke="#444" stroke-width="1.2" />
<line x1="111.70" y1="294.20" x2="111.70" y2="298.20" stroke="#444" stroke-width="1.2" />
<text x="111.70" y="368.50" font-size="15" text-anchor="middle" fill="#000" stroke="#000" stroke-width="0.25" >0</text>
<line x1="145.03" y1="353.20" x2="145.03" y2="349.20" stroke="#444" stroke-width="1.2" />
<line x1="145.03" y1="294.20" x2="145.03" y2="298.20" stroke="#444" stroke-width="1.2" />
<text x="145.03" y="368.50" font-size="15" text-anchor="middle" fill="#000" stroke="#000" stroke-width="0.25" >5</text>
<line x1="178.37" y1="353.20" x2="178.37" y2="349.20" stroke="#444" stroke-width="1.2" />
<line x1="178.37" y1="294.20" x2="178.37" y2="298.20" stroke="#444" stroke-width="1.2" />
<text x="178.67" y="368.50" font-size="15" text-anchor="middle" fill="#000" stroke="#000" stroke-width="0.25" >10</text>
<line x1="211.70" y1="353.20" x2="211.70" y2="349.20" stroke="#444" stroke-width="1.2" />
<line x1="211.70" y1="294.20" x2="211.70" y2="298.20" stroke="#444" stroke-width="1.2" />
<text x="212.00" y="368.50" font-size="15" text-anchor="middle" fill="#000" stroke="#000" stroke-width="0.25" >15</text>
<line x1="111.70" y1="353.20" x2="115.70" y2="353.20" stroke="#444" stroke-width="1.2" />
<line x1="211.70" y1="353.20" x2="207.70" y2="353.20" stroke="#444" stroke-width="1.2" />
<text x="0" y="0" font-size="15" text-anchor="end" transform="translate(110.2,357.60) scale(1,0.78)">0</text>
<line x1="111.70" y1="341.40" x2="115.70" y2="341.40" stroke="#444" stroke-width="1.2" />
<line x1="211.70" y1="341.40" x2="207.70" y2="341.40" stroke="#444" stroke-width="1.2" />
<text x="0" y="0" font-size="15" text-anchor="end" transform="translate(110.2,345.80) scale(1,0.78)">1</text>
<line x1="111.70" y1="329.60" x2="115.70" y2="329.60" stroke="#444" stroke-width="1.2" />
<line x1="211.70" y1="329.60" x2="207.70" y2="329.60" stroke="#444" stroke-width="1.2" />
<text x="0" y="0" font-size="15" text-anchor="end" transform="translate(110.2,334.00) scale(1,0.78)">2</text>
<line x1="111.70" y1="317.80" x2="115.70" y2="317.80" stroke="#444" stroke-width="1.2" />
<line x1="211.70" y1="317.80" x2="207.70" y2="317.80" stroke="#444" stroke-width="1.2" />
<text x="0" y="0" font-size="15" text-anchor="end" transform="translate(110.2,322.20) scale(1,0.78)">3</text>
<line x1="111.70" y1="306.00" x2="115.70" y2="306.00" stroke="#444" stroke-width="1.2" />
<line x1="211.70" y1="306.00" x2="207.70" y2="306.00" stroke="#444" stroke-width="1.2" />
<text x="0" y="0" font-size="15" text-anchor="end" transform="translate(110.2,310.40) scale(1,0.78)">4</text>
<line x1="111.70" y1="294.20" x2="115.70" y2="294.20" stroke="#444" stroke-width="1.2" />
<line x1="211.70" y1="294.20" x2="207.70" y2="294.20" stroke="#444" stroke-width="1.2" />
<text x="0" y="0" font-size="15" text-anchor="end" transform="translate(110.2,298.60) scale(1,0.78)">5</text>
<text x="161.50" y="381.50" font-size="15" text-anchor="middle" fill="#000" stroke="#000" stroke-width="0.25" ><tspan font-style="italic">T</tspan> (K)</text>
<text x="0.00" y="0.00" font-size="15" text-anchor="middle" fill="#000" stroke="#000" stroke-width="0.25" font-style="italic" transform="translate(95.6,322.2) rotate(-90)">α</text>
<text x="156.00" y="310.80" font-size="15.3" text-anchor="start" fill="#000" stroke="#000" stroke-width="0.25" font-style="italic" >V</text>
<path d="M180.20,303.40 C177.38,303.40 175.69,310.40 173.24,310.40 C171.74,310.40 170.80,309.00 170.80,306.90 C170.80,304.80 171.74,303.40 173.24,303.40 C175.69,303.40 177.38,310.40 180.20,310.40" fill="none" stroke="#000" stroke-width="1.3"/>
<text x="185.50" y="310.80" font-size="15.3" text-anchor="start" fill="#000" stroke="#000" stroke-width="0.25" font-style="italic" >I</text>
<text x="190.8" y="305.3" font-size="12.5" font-style="italic" textLength="9.3" lengthAdjust="spacingAndGlyphs">α</text>
<text x="119.50" y="348.20" font-size="15.6" text-anchor="start" fill="#000" stroke="#000" stroke-width="0.25" >5.2 K</text>
<line x1="129.00" y1="334.50" x2="141.43" y2="323.01" stroke="#000" stroke-width="2.4" />
<polygon points="143.14,326.33 138.25,321.05 146.20,318.60" fill="#000"/>
<text x="349.50" y="284.60" font-size="20" text-anchor="start" fill="#000" stroke="#000" stroke-width="0.25" font-weight="bold" >d</text>
<g clip-path="url(#clipd)">
</g>
<circle cx="419.30" cy="457.40" r="3.3" fill="#000" />
<circle cx="444.20" cy="457.00" r="3.3" fill="#000" />
<circle cx="468.70" cy="453.00" r="3.3" fill="#000" />
<circle cx="492.90" cy="448.70" r="3.3" fill="#000" />
<circle cx="517.40" cy="439.20" r="3.3" fill="#000" />
<circle cx="541.60" cy="427.20" r="3.3" fill="#000" />
<circle cx="566.10" cy="412.00" r="3.3" fill="#000" />
<circle cx="590.30" cy="389.50" r="3.3" fill="#000" />
<circle cx="614.40" cy="363.20" r="3.3" fill="#000" />
<circle cx="618.50" cy="341.50" r="3.3" fill="#000" />
<circle cx="620.50" cy="337.50" r="3.3" fill="#000" />
<circle cx="622.50" cy="333.60" r="3.3" fill="#000" />
<circle cx="624.70" cy="329.30" r="3.3" fill="#000" />
<circle cx="627.00" cy="325.00" r="3.3" fill="#000" />
<circle cx="628.70" cy="321.30" r="3.3" fill="#000" />
<circle cx="630.40" cy="317.70" r="3.3" fill="#000" />
<circle cx="632.10" cy="314.80" r="3.3" fill="#000" />
<circle cx="633.80" cy="312.00" r="3.3" fill="#000" />
<circle cx="636.30" cy="309.40" r="3.3" fill="#000" />
<circle cx="638.90" cy="306.90" r="3.3" fill="#000" />
<circle cx="641.20" cy="312.00" r="3.3" fill="#000" />
<circle cx="642.90" cy="316.50" r="3.3" fill="#000" />
<circle cx="644.50" cy="320.60" r="3.3" fill="#000" />
<circle cx="646.80" cy="324.50" r="3.3" fill="#000" />
<circle cx="649.70" cy="327.90" r="3.3" fill="#000" />
<circle cx="652.50" cy="331.30" r="3.3" fill="#000" />
<circle cx="655.40" cy="334.70" r="3.3" fill="#000" />
<circle cx="658.20" cy="338.60" r="3.3" fill="#000" />
<circle cx="661.00" cy="342.60" r="3.3" fill="#000" />
<circle cx="663.30" cy="345.40" r="3.3" fill="#000" />
<circle cx="665.60" cy="348.30" r="3.3" fill="#000" />
<g clip-path="url(#clipd)">
<polyline points="419.70,458.42 420.88,458.39 422.36,458.37 424.09,458.35 426.03,458.32 428.14,458.29 430.38,458.25 432.70,458.20 435.07,458.13 437.43,458.04 439.76,457.92 441.99,457.78 444.11,457.60 446.17,457.39 448.29,457.16 450.45,456.90 452.62,456.62 454.79,456.31 456.95,455.99 459.07,455.65 461.13,455.30 463.13,454.93 465.04,454.55 466.84,454.16 468.51,453.77 470.07,453.35 471.53,452.89 472.90,452.40 474.20,451.90 475.42,451.37 476.58,450.85 477.68,450.32 478.74,449.81 479.76,449.33 480.75,448.87 481.71,448.45 482.66,448.07 483.57,447.75 484.42,447.46 485.20,447.21 485.94,446.99 486.63,446.78 487.30,446.59 487.95,446.41 488.59,446.24 489.22,446.06 489.86,445.87 490.52,445.67 491.21,445.45 491.91,445.21 492.61,444.97 493.31,444.74 494.01,444.49 494.71,444.25 495.40,444.00 496.09,443.75 496.78,443.50 497.47,443.24 498.15,442.98 498.83,442.71 499.50,442.44 500.17,442.16 500.83,441.88 501.47,441.60 502.12,441.31 502.76,441.02 503.39,440.73 504.03,440.43 504.67,440.12 505.32,439.81 505.98,439.49 506.64,439.16 507.31,438.82 508.01,438.47 508.71,438.10 509.44,437.71 510.17,437.32 510.91,436.91 511.65,436.51 512.38,436.10 513.11,435.70 513.82,435.31 514.52,434.93 515.20,434.57 515.86,434.22 516.48,433.90 517.08,433.60 517.67,433.32 518.23,433.05 518.79,432.78 519.33,432.53 519.88,432.27 520.42,432.00 520.97,431.73 521.53,431.45 522.10,431.15 522.69,430.83 523.29,430.49 523.91,430.14 524.53,429.79 525.17,429.42 525.80,429.05 526.44,428.67 527.08,428.28 527.72,427.88 528.36,427.48 529.00,427.07 529.63,426.65 530.25,426.23 530.87,425.80 531.49,425.35 532.11,424.90 532.73,424.44 533.35,423.97 533.96,423.49 534.57,423.01 535.18,422.53 535.79,422.06 536.39,421.58 536.98,421.11 537.58,420.64 538.16,420.18 538.75,419.73 539.33,419.27 539.91,418.81 540.48,418.36 541.05,417.90 541.62,417.45 542.19,416.99 542.75,416.54 543.30,416.08 543.86,415.63 544.41,415.17 544.96,414.72 545.50,414.27 546.03,413.83 546.56,413.39 547.09,412.94 547.61,412.50 548.14,412.05 548.66,411.60 549.18,411.14 549.70,410.67 550.23,410.19 550.75,409.69 551.29,409.19 551.82,408.66 552.35,408.13 552.89,407.58 553.42,407.03 553.96,406.48 554.49,405.91 555.02,405.35 555.55,404.79 556.07,404.23 556.59,403.67 557.10,403.12 557.61,402.58 558.11,402.03 558.60,401.48 559.09,400.93 559.58,400.38 560.07,399.84 560.55,399.29 561.03,398.75 561.51,398.21 561.99,397.67 562.48,397.14 562.96,396.61 563.44,396.09 563.92,395.58 564.40,395.08 564.88,394.59 565.36,394.10 565.83,393.61 566.31,393.12 566.79,392.62 567.26,392.11 567.74,391.60 568.21,391.07 568.69,390.53 569.17,389.98 569.66,389.41 570.14,388.83 570.63,388.24 571.11,387.64 571.60,387.04 572.08,386.43 572.56,385.83 573.04,385.22 573.51,384.61 573.97,384.01 574.43,383.42 574.87,382.82 575.31,382.24 575.73,381.65 576.15,381.06 576.57,380.48 576.98,379.89 577.40,379.30 577.81,378.71 578.23,378.12 578.66,377.52 579.10,376.91 579.55,376.30 580.02,375.68 580.50,375.05 580.98,374.41 581.48,373.76 581.98,373.11 582.48,372.46 582.98,371.82 583.48,371.17 583.98,370.52 584.47,369.88 584.95,369.25 585.41,368.63 585.87,368.02 586.32,367.41 586.77,366.80 587.21,366.20 587.65,365.60 588.08,365.01 588.51,364.41 588.93,363.83 589.34,363.24 589.75,362.66 590.14,362.09 590.53,361.51 590.91,360.95 591.27,360.40 591.62,359.86 591.95,359.32 592.28,358.79 592.61,358.26 592.94,357.73 593.26,357.20 593.60,356.65 593.95,356.10 594.31,355.53 594.68,354.94 595.08,354.34 595.48,353.73 595.90,353.11 596.32,352.47 596.75,351.83 597.19,351.18 597.62,350.53 598.06,349.88 598.50,349.22 598.94,348.57 599.38,347.92 599.81,347.28 600.24,346.64 600.66,346.00 601.08,345.35 601.51,344.70 601.93,344.06 602.36,343.41 602.78,342.77 603.21,342.13 603.64,341.49 604.07,340.86 604.50,340.23 604.93,339.62 605.37,339.00 605.82,338.39 606.26,337.78 606.71,337.18 607.17,336.58 607.62,335.99 608.07,335.40 608.52,334.81 608.97,334.23 609.42,333.65 609.86,333.07 610.30,332.50 610.74,331.93 611.17,331.38 611.59,330.83 612.01,330.29 612.43,329.75 612.85,329.21 613.27,328.68 613.69,328.14 614.12,327.60 614.55,327.05 614.98,326.49 615.43,325.93 615.88,325.35 616.33,324.75 616.78,324.15 617.24,323.53 617.70,322.92 618.16,322.30 618.63,321.69 619.10,321.08 619.58,320.49 620.06,319.91 620.55,319.35 621.04,318.81 621.54,318.29 622.05,317.78 622.55,317.29 623.07,316.80 623.58,316.33 624.11,315.87 624.64,315.42 625.17,314.98 625.71,314.55 626.26,314.13 626.82,313.73 627.39,313.33 627.97,312.95 628.58,312.57 629.21,312.20 629.85,311.83 630.50,311.48 631.15,311.14 631.80,310.82 632.43,310.52 633.04,310.23 633.63,309.96 634.19,309.72 634.71,309.50 635.19,309.31 635.64,309.14 636.06,308.98 636.45,308.85 636.83,308.74 637.19,308.65 637.55,308.57 637.90,308.51 638.25,308.46 638.60,308.43 638.97,308.41 639.35,308.41 639.72,308.42 640.09,308.44 640.45,308.48 640.80,308.53 641.15,308.60 641.51,308.68 641.88,308.78 642.26,308.89 642.65,309.02 643.07,309.17 643.51,309.33 643.98,309.50 644.48,309.69 645.00,309.87 645.55,310.07 646.11,310.27 646.68,310.49 647.28,310.73 647.88,311.00 648.50,311.29 649.13,311.61 649.77,311.96 650.41,312.35 651.06,312.79 651.72,313.26 652.40,313.78 653.09,314.33 653.80,314.92 654.51,315.53 655.24,316.18 655.97,316.84 656.70,317.53 657.43,318.24 658.16,318.97 658.88,319.70 659.60,320.45 660.31,321.21 661.02,321.98 661.73,322.77 662.43,323.58 663.14,324.40 663.84,325.24 664.55,326.11 665.26,327.00 665.97,327.92 666.69,328.87 667.41,329.85 668.14,330.86 668.91,331.95 669.72,333.17 670.58,334.48 671.45,335.84 672.33,337.24 673.19,338.62 674.03,339.97 674.81,341.26 675.54,342.44 676.18,343.50 676.73,344.39 677.17,345.09" fill="none" stroke="#1ec8cc" stroke-width="2.5" stroke-linejoin="round" stroke-linecap="round" stroke-dasharray="4,3.6" stroke-linecap="butt"/>
<polyline points="419.70,458.42 420.88,458.40 422.36,458.39 424.09,458.39 426.03,458.38 428.14,458.37 430.38,458.35 432.70,458.32 435.07,458.28 437.43,458.22 439.76,458.13 441.99,458.02 444.11,457.88 446.14,457.70 448.17,457.51 450.21,457.30 452.24,457.07 454.27,456.83 456.31,456.56 458.34,456.27 460.38,455.97 462.41,455.65 464.44,455.31 466.48,454.96 468.51,454.59 470.54,454.21 472.58,453.81 474.61,453.40 476.64,452.98 478.68,452.54 480.71,452.07 482.75,451.59 484.78,451.09 486.81,450.57 488.85,450.02 490.88,449.44 492.91,448.84 494.95,448.21 496.98,447.57 499.02,446.90 501.05,446.21 503.08,445.49 505.12,444.75 507.15,443.99 509.18,443.20 511.22,442.39 513.25,441.56 515.29,440.70 517.32,439.81 519.38,438.88 521.47,437.91 523.59,436.90 525.73,435.85 527.86,434.79 529.98,433.70 532.08,432.60 534.13,431.50 536.14,430.41 538.08,429.32 539.95,428.26 541.73,427.22 543.41,426.20 545.00,425.20 546.53,424.22 547.99,423.24 549.40,422.27 550.77,421.30 552.11,420.32 553.44,419.33 554.76,418.32 556.09,417.30 557.43,416.25 558.81,415.17 560.20,414.06 561.59,412.92 562.98,411.77 564.36,410.59 565.74,409.39 567.11,408.19 568.47,406.98 569.83,405.76 571.17,404.55 572.51,403.33 573.84,402.13 575.16,400.94 576.46,399.76 577.75,398.61 579.03,397.48 580.29,396.35 581.55,395.23 582.80,394.09 584.05,392.94 585.29,391.77 586.54,390.57 587.78,389.33 589.03,388.04 590.29,386.70 591.56,385.31 592.86,383.87 594.16,382.39 595.47,380.88 596.78,379.34 598.09,377.77 599.38,376.18 600.65,374.57 601.90,372.96 603.11,371.33 604.29,369.71 605.42,368.09 606.52,366.44 607.58,364.75 608.62,363.02 609.63,361.27 610.61,359.51 611.57,357.75 612.51,356.00 613.42,354.28 614.32,352.58 615.19,350.94 616.05,349.35 616.89,347.83 617.71,346.38 618.49,344.99 619.23,343.65 619.96,342.35 620.66,341.09 621.35,339.85 622.02,338.64 622.70,337.43 623.37,336.21 624.04,335.00 624.73,333.76 625.43,332.50 626.16,331.20 626.89,329.87 627.64,328.51 628.40,327.14 629.15,325.78 629.90,324.42 630.64,323.09 631.36,321.79 632.06,320.54 632.74,319.34 633.38,318.21 633.98,317.17 634.55,316.18 635.12,315.23 635.67,314.31 636.20,313.44 636.71,312.61 637.19,311.83 637.65,311.10 638.07,310.44 638.45,309.83 638.80,309.28 639.10,308.81 639.35,308.41 639.35,308.41 639.57,308.82 639.85,309.32 640.18,309.90 640.54,310.56 640.93,311.27 641.36,312.03 641.81,312.84 642.27,313.68 642.75,314.54 643.24,315.42 643.74,316.29 644.23,317.17 644.72,318.05 645.23,318.95 645.76,319.87 646.30,320.82 646.85,321.79 647.41,322.78 647.99,323.79 648.58,324.83 649.19,325.89 649.80,326.98 650.42,328.08 651.06,329.21 651.71,330.38 652.38,331.60 653.07,332.85 653.78,334.14 654.50,335.45 655.22,336.77 655.96,338.11 656.69,339.43 657.43,340.75 658.16,342.04 658.88,343.31 659.60,344.54 660.31,345.74 661.02,346.93 661.73,348.09 662.43,349.25 663.14,350.39 663.84,351.52 664.55,352.65 665.26,353.77 665.97,354.89 666.69,356.00 667.41,357.11 668.14,358.23 668.91,359.39 669.72,360.60 670.58,361.86 671.45,363.14 672.33,364.41 673.19,365.66 674.03,366.85 674.81,367.98 675.54,369.02 676.18,369.95 676.73,370.74 677.17,371.37" fill="none" stroke="#ff0000" stroke-width="2.5" stroke-linejoin="round" stroke-linecap="round" stroke-linejoin="miter"/>
</g>
<rect x="419.7" y="282.6" width="256.50" height="191.70" fill="none" stroke="#111" stroke-width="1.5"/>
<line x1="419.70" y1="474.30" x2="419.70" y2="466.30" stroke="#000" stroke-width="1.5" />
<line x1="419.70" y1="282.60" x2="419.70" y2="290.60" stroke="#000" stroke-width="1.5" />
<text x="419.70" y="496.20" font-size="18" text-anchor="middle" fill="#000" stroke="#000" stroke-width="0.25" >0</text>
<line x1="492.91" y1="474.30" x2="492.91" y2="466.30" stroke="#000" stroke-width="1.5" />
<line x1="492.91" y1="282.60" x2="492.91" y2="290.60" stroke="#000" stroke-width="1.5" />
<text x="493.21" y="496.20" font-size="18" text-anchor="middle" fill="#000" stroke="#000" stroke-width="0.25" >30</text>
<line x1="566.13" y1="474.30" x2="566.13" y2="466.30" stroke="#000" stroke-width="1.5" />
<line x1="566.13" y1="282.60" x2="566.13" y2="290.60" stroke="#000" stroke-width="1.5" />
<text x="566.43" y="496.20" font-size="18" text-anchor="middle" fill="#000" stroke="#000" stroke-width="0.25" >60</text>
<line x1="639.35" y1="474.30" x2="639.35" y2="466.30" stroke="#000" stroke-width="1.5" />
<line x1="639.35" y1="282.60" x2="639.35" y2="290.60" stroke="#000" stroke-width="1.5" />
<text x="639.64" y="496.20" font-size="18" text-anchor="middle" fill="#000" stroke="#000" stroke-width="0.25" >90</text>
<line x1="419.70" y1="446.93" x2="427.70" y2="446.93" stroke="#000" stroke-width="1.5" />
<line x1="676.20" y1="446.93" x2="668.20" y2="446.93" stroke="#000" stroke-width="1.5" />
<text x="414.50" y="453.32" font-size="18" text-anchor="end" fill="#000" stroke="#000" stroke-width="0.25" >2</text>
<line x1="419.70" y1="392.18" x2="427.70" y2="392.18" stroke="#000" stroke-width="1.5" />
<line x1="676.20" y1="392.18" x2="668.20" y2="392.18" stroke="#000" stroke-width="1.5" />
<text x="414.50" y="398.57" font-size="18" text-anchor="end" fill="#000" stroke="#000" stroke-width="0.25" >3</text>
<line x1="419.70" y1="337.43" x2="427.70" y2="337.43" stroke="#000" stroke-width="1.5" />
<line x1="676.20" y1="337.43" x2="668.20" y2="337.43" stroke="#000" stroke-width="1.5" />
<text x="414.50" y="343.82" font-size="18" text-anchor="end" fill="#000" stroke="#000" stroke-width="0.25" >4</text>
<line x1="419.70" y1="282.68" x2="427.70" y2="282.68" stroke="#000" stroke-width="1.5" />
<line x1="676.20" y1="282.68" x2="668.20" y2="282.68" stroke="#000" stroke-width="1.5" />
<text x="414.50" y="289.07" font-size="18" text-anchor="end" fill="#000" stroke="#000" stroke-width="0.25" >5</text>
<text x="548.00" y="524.40" font-size="18" text-anchor="middle" fill="#000" stroke="#000" stroke-width="0.25" ><tspan font-style="italic">θ</tspan> (degrees)</text>
<text x="0.00" y="0.00" font-size="18.6" text-anchor="middle" fill="#000" stroke="#000" stroke-width="0.25" transform="translate(380.3,378.3) rotate(-90)"><tspan font-style="italic">μ</tspan><tspan font-size="12.5" dy="3.5">0</tspan><tspan font-style="italic" dy="-3.5">H</tspan><tspan font-size="12.5" dy="3.5">c2</tspan><tspan dy="-3.5"> (T)</tspan></text>
<text x="574.00" y="341.90" font-size="15.6" text-anchor="start" fill="#1ec8cc" stroke="#1ec8cc" stroke-width="0.25" >3D</text>
<text x="606.50" y="386.50" font-size="15.6" text-anchor="start" fill="#ff0000" stroke="#ff0000" stroke-width="0.25" >2D</text>
<text x="585.20" y="436.60" font-size="15.6" text-anchor="start" fill="#000" stroke="#000" stroke-width="0.25" ><tspan font-style="italic">t</tspan> = 40 nm</text>
<text x="581.70" y="456.40" font-size="15.6" text-anchor="start" fill="#000" stroke="#000" stroke-width="0.25" ><tspan font-style="italic">T</tspan> = 10.8 K</text>
<polygon points="441.1,424.2 441.1,426.7 457.8,437.7 498,431.4 498,428.9 457.8,435.2" fill="#6e6e6e" stroke="#444" stroke-width="0.6"/>
<polygon points="441.1,424.2 482.7,418.4 498,428.9 457.8,435.2" fill="#a8a8a8" stroke="#555" stroke-width="0.7"/>
<line x1="483.40" y1="387.30" x2="483.40" y2="418.70" stroke="#000" stroke-width="1.2" stroke-dasharray="1.3,1.3"/>
<path d="M472.6,410.0 Q477,403.5 483.4,407.8" fill="none" stroke="#000" stroke-width="1.2"/>
<line x1="483.40" y1="422.30" x2="458.24" y2="397.05" stroke="#ff0000" stroke-width="2.0" />
<polygon points="461.35,395.36 456.53,400.16 454.00,392.80" fill="#ff0000"/>
<line x1="482.70" y1="422.40" x2="458.19" y2="427.16" stroke="#000" stroke-width="2.4" />
<polygon points="458.52,423.63 459.82,430.30 452.30,428.30" fill="#000"/>
<text x="441.00" y="400.50" font-size="15" text-anchor="start" fill="#ff0000" stroke="#ff0000" stroke-width="0.25" font-style="italic" font-weight="bold" >H</text>
<text x="469.6" y="400.3" font-size="16" font-style="italic" font-family="Liberation Serif, serif">θ</text>
<text x="428.20" y="418.00" font-size="15" text-anchor="start" fill="#000" stroke="#000" stroke-width="0.25" font-style="italic" font-weight="bold" >I</text>
<line x1="439.20" y1="408.80" x2="439.20" y2="420.00" stroke="#000" stroke-width="1.3" />
<line x1="442.80" y1="408.80" x2="442.80" y2="420.00" stroke="#000" stroke-width="1.3" />
<text x="450.30" y="418.00" font-size="15" text-anchor="start" fill="#000" stroke="#000" stroke-width="0.25" font-style="italic" font-weight="bold" >a</text>
<rect x="458.6" y="294.1" width="96.20" height="64.00" fill="#fff"/>
<g clip-path="url(#clipdi)">
<polyline points="73.80,518.90 76.12,518.86 79.03,518.82 82.44,518.79 86.27,518.75 90.43,518.71 94.84,518.65 99.42,518.57 104.09,518.47 108.75,518.34 113.33,518.17 117.74,517.96 121.90,517.70 125.97,517.40 130.15,517.05 134.40,516.67 138.68,516.26 142.96,515.82 147.21,515.35 151.39,514.85 155.46,514.33 159.40,513.79 163.15,513.24 166.70,512.68 170.00,512.10 173.07,511.49 175.95,510.82 178.65,510.11 181.21,509.36 183.62,508.60 185.90,507.83 188.08,507.07 190.17,506.32 192.17,505.61 194.12,504.94 196.02,504.33 197.90,503.78 199.69,503.30 201.35,502.89 202.90,502.52 204.35,502.19 205.72,501.89 207.04,501.62 208.31,501.35 209.57,501.10 210.82,500.83 212.08,500.56 213.38,500.27 214.73,499.94 216.12,499.60 217.50,499.25 218.88,498.90 220.26,498.55 221.63,498.19 223.00,497.83 224.37,497.46 225.72,497.09 227.08,496.72 228.42,496.33 229.76,495.94 231.09,495.54 232.40,495.14 233.69,494.73 234.97,494.32 236.24,493.90 237.50,493.48 238.75,493.04 240.01,492.61 241.28,492.16 242.55,491.70 243.84,491.23 245.15,490.75 246.48,490.26 247.84,489.74 249.24,489.20 250.67,488.64 252.11,488.06 253.56,487.47 255.02,486.88 256.47,486.29 257.90,485.70 259.31,485.13 260.69,484.57 262.02,484.04 263.31,483.54 264.55,483.07 265.74,482.63 266.88,482.22 268.00,481.82 269.09,481.44 270.17,481.06 271.24,480.68 272.31,480.30 273.39,479.90 274.49,479.49 275.62,479.05 276.78,478.58 277.98,478.09 279.19,477.58 280.42,477.06 281.66,476.52 282.92,475.98 284.18,475.42 285.44,474.85 286.70,474.27 287.97,473.68 289.22,473.08 290.46,472.48 291.69,471.86 292.92,471.23 294.14,470.58 295.36,469.92 296.57,469.24 297.79,468.55 299.00,467.86 300.20,467.16 301.40,466.46 302.59,465.76 303.78,465.07 304.96,464.38 306.12,463.70 307.28,463.03 308.43,462.36 309.58,461.69 310.72,461.02 311.85,460.36 312.98,459.69 314.10,459.03 315.21,458.36 316.31,457.70 317.41,457.03 318.51,456.37 319.59,455.70 320.67,455.04 321.73,454.39 322.79,453.74 323.83,453.09 324.87,452.45 325.90,451.80 326.93,451.15 327.96,450.49 328.99,449.81 330.02,449.13 331.06,448.42 332.10,447.70 333.14,446.96 334.19,446.19 335.25,445.41 336.30,444.62 337.36,443.81 338.41,443.00 339.46,442.18 340.51,441.35 341.54,440.53 342.57,439.71 343.59,438.90 344.60,438.10 345.60,437.30 346.59,436.50 347.56,435.70 348.53,434.90 349.49,434.10 350.45,433.30 351.40,432.50 352.35,431.70 353.30,430.91 354.25,430.13 355.20,429.35 356.15,428.58 357.10,427.82 358.04,427.08 358.99,426.35 359.93,425.63 360.87,424.91 361.81,424.20 362.75,423.48 363.69,422.75 364.63,422.01 365.57,421.26 366.51,420.49 367.45,419.70 368.40,418.89 369.35,418.05 370.30,417.21 371.26,416.35 372.22,415.47 373.18,414.60 374.13,413.71 375.08,412.82 376.01,411.94 376.94,411.05 377.85,410.17 378.75,409.30 379.63,408.44 380.49,407.58 381.33,406.72 382.16,405.86 382.97,405.01 383.79,404.15 384.60,403.29 385.43,402.43 386.26,401.56 387.10,400.68 387.97,399.79 388.86,398.90 389.77,397.99 390.71,397.07 391.67,396.14 392.65,395.20 393.64,394.25 394.63,393.30 395.62,392.35 396.60,391.40 397.58,390.46 398.54,389.53 399.48,388.61 400.40,387.70 401.30,386.80 402.19,385.91 403.07,385.02 403.94,384.14 404.81,383.27 405.66,382.40 406.50,381.54 407.33,380.68 408.14,379.82 408.94,378.98 409.73,378.14 410.50,377.30 411.24,376.48 411.95,375.67 412.63,374.88 413.30,374.10 413.95,373.32 414.59,372.55 415.23,371.77 415.88,370.99 416.54,370.19 417.23,369.38 417.93,368.55 418.68,367.70 419.45,366.82 420.25,365.93 421.07,365.01 421.90,364.09 422.75,363.15 423.61,362.20 424.47,361.25 425.34,360.29 426.21,359.34 427.07,358.39 427.93,357.44 428.78,356.50 429.62,355.56 430.46,354.62 431.29,353.68 432.13,352.74 432.96,351.79 433.80,350.85 434.64,349.91 435.48,348.97 436.32,348.04 437.17,347.12 438.02,346.21 438.88,345.30 439.75,344.40 440.62,343.51 441.50,342.62 442.39,341.74 443.28,340.87 444.17,340.00 445.06,339.14 445.95,338.28 446.84,337.43 447.72,336.58 448.59,335.74 449.46,334.90 450.32,334.07 451.16,333.26 452.00,332.46 452.83,331.67 453.66,330.88 454.48,330.10 455.31,329.32 456.14,328.53 456.98,327.74 457.83,326.94 458.69,326.13 459.56,325.30 460.45,324.45 461.33,323.59 462.23,322.70 463.12,321.80 464.03,320.90 464.94,320.00 465.86,319.10 466.79,318.22 467.74,317.35 468.69,316.50 469.65,315.69 470.62,314.90 471.61,314.14 472.60,313.40 473.60,312.68 474.62,311.97 475.64,311.28 476.67,310.60 477.71,309.94 478.77,309.30 479.84,308.67 480.92,308.07 482.02,307.47 483.13,306.90 484.28,306.34 485.49,305.78 486.73,305.24 487.99,304.71 489.28,304.19 490.56,303.70 491.83,303.23 493.07,302.78 494.28,302.36 495.44,301.97 496.54,301.62 497.56,301.30 498.51,301.02 499.39,300.76 500.22,300.54 501.00,300.35 501.74,300.19 502.46,300.05 503.16,299.94 503.85,299.85 504.54,299.78 505.24,299.74 505.96,299.71 506.70,299.70 507.45,299.71 508.17,299.74 508.87,299.80 509.57,299.88 510.26,299.98 510.97,300.10 511.69,300.24 512.44,300.41 513.22,300.60 514.04,300.81 514.91,301.04 515.84,301.30 516.82,301.57 517.85,301.84 518.92,302.12 520.03,302.43 521.16,302.75 522.33,303.10 523.53,303.48 524.75,303.91 525.99,304.38 527.24,304.89 528.51,305.47 529.79,306.10 531.09,306.80 532.43,307.55 533.79,308.36 535.19,309.21 536.60,310.11 538.03,311.05 539.46,312.03 540.90,313.03 542.35,314.07 543.78,315.13 545.21,316.21 546.62,317.30 548.02,318.41 549.42,319.54 550.81,320.69 552.20,321.86 553.59,323.07 554.98,324.30 556.38,325.57 557.78,326.87 559.18,328.21 560.60,329.60 562.02,331.02 563.46,332.50 564.96,334.10 566.57,335.88 568.26,337.79 569.98,339.79 571.71,341.82 573.41,343.85 575.05,345.82 576.61,347.70 578.03,349.43 579.31,350.97 580.39,352.28 581.25,353.30" fill="none" stroke="#1ec8cc" stroke-width="2.5" stroke-linejoin="round" stroke-linecap="round" stroke-dasharray="4,3.6" stroke-linecap="butt"/>
<polyline points="448.98,383.91 506.70,300.10 564.42,384.96" fill="none" stroke="#ff0000" stroke-width="2.5" stroke-linejoin="round" stroke-linecap="round" stroke-linejoin="miter"/>
</g>
<rect x="458.6" y="294.1" width="96.20" height="64.00" fill="none" stroke="#333" stroke-width="1.4"/>
<g clip-path="url(#clipdi2)">
<circle cx="468.22" cy="349.30" r="3.2" fill="#000" />
<circle cx="473.99" cy="346.10" r="3.2" fill="#000" />
<circle cx="477.84" cy="336.50" r="3.2" fill="#000" />
<circle cx="482.65" cy="331.70" r="3.2" fill="#000" />
<circle cx="486.98" cy="325.30" r="3.2" fill="#000" />
<circle cx="492.27" cy="315.70" r="3.2" fill="#000" />
<circle cx="497.08" cy="307.70" r="3.2" fill="#000" />
<circle cx="501.89" cy="302.90" r="3.2" fill="#000" />
<circle cx="506.70" cy="299.70" r="3.2" fill="#000" />
<circle cx="511.51" cy="303.70" r="3.2" fill="#000" />
<circle cx="514.88" cy="307.70" r="3.2" fill="#000" />
<circle cx="517.76" cy="312.50" r="3.2" fill="#000" />
<circle cx="522.09" cy="319.70" r="3.2" fill="#000" />
<circle cx="526.90" cy="324.50" r="3.2" fill="#000" />
<circle cx="531.71" cy="329.30" r="3.2" fill="#000" />
<circle cx="536.52" cy="335.70" r="3.2" fill="#000" />
<circle cx="541.33" cy="342.10" r="3.2" fill="#000" />
<circle cx="546.14" cy="346.90" r="3.2" fill="#000" />
<circle cx="550.95" cy="353.30" r="3.2" fill="#000" />
<circle cx="555.76" cy="357.30" r="3.2" fill="#000" />
</g>
<g clip-path="url(#clipdi)">
<polyline points="448.98,383.91 506.70,300.10 564.42,384.96" fill="none" stroke="#ff0000" stroke-width="2.5" stroke-linejoin="round" stroke-linecap="round" stroke-linejoin="miter"/>
</g>
<line x1="458.60" y1="358.10" x2="458.60" y2="352.10" stroke="#000" stroke-width="1.3" />
<line x1="458.60" y1="294.10" x2="458.60" y2="300.10" stroke="#000" stroke-width="1.3" />
<text x="458.60" y="379.00" font-size="18" text-anchor="middle" fill="#000" stroke="#000" stroke-width="0.25" >80</text>
<line x1="482.65" y1="358.10" x2="482.65" y2="352.10" stroke="#000" stroke-width="1.3" />
<line x1="482.65" y1="294.10" x2="482.65" y2="300.10" stroke="#000" stroke-width="1.3" />
<line x1="506.70" y1="358.10" x2="506.70" y2="352.10" stroke="#000" stroke-width="1.3" />
<line x1="506.70" y1="294.10" x2="506.70" y2="300.10" stroke="#000" stroke-width="1.3" />
<text x="506.70" y="379.00" font-size="18" text-anchor="middle" fill="#000" stroke="#000" stroke-width="0.25" >90</text>
<line x1="530.75" y1="358.10" x2="530.75" y2="352.10" stroke="#000" stroke-width="1.3" />
<line x1="530.75" y1="294.10" x2="530.75" y2="300.10" stroke="#000" stroke-width="1.3" />
<line x1="554.80" y1="358.10" x2="554.80" y2="352.10" stroke="#000" stroke-width="1.3" />
<line x1="554.80" y1="294.10" x2="554.80" y2="300.10" stroke="#000" stroke-width="1.3" />
<text x="555.20" y="379.00" font-size="18" text-anchor="middle" fill="#000" stroke="#000" stroke-width="0.25" >100</text>
<line x1="458.60" y1="358.10" x2="464.60" y2="358.10" stroke="#000" stroke-width="1.3" />
<line x1="554.80" y1="358.10" x2="548.80" y2="358.10" stroke="#000" stroke-width="1.3" />
<line x1="458.60" y1="342.10" x2="464.60" y2="342.10" stroke="#000" stroke-width="1.3" />
<line x1="554.80" y1="342.10" x2="548.80" y2="342.10" stroke="#000" stroke-width="1.3" />
<line x1="458.60" y1="326.10" x2="464.60" y2="326.10" stroke="#000" stroke-width="1.3" />
<line x1="554.80" y1="326.10" x2="548.80" y2="326.10" stroke="#000" stroke-width="1.3" />
<line x1="458.60" y1="310.10" x2="464.60" y2="310.10" stroke="#000" stroke-width="1.3" />
<line x1="554.80" y1="310.10" x2="548.80" y2="310.10" stroke="#000" stroke-width="1.3" />
<line x1="458.60" y1="294.10" x2="464.60" y2="294.10" stroke="#000" stroke-width="1.3" />
<line x1="554.80" y1="294.10" x2="548.80" y2="294.10" stroke="#000" stroke-width="1.3" />
<text x="453.80" y="348.50" font-size="18" text-anchor="end" fill="#000" stroke="#000" stroke-width="0.25" >4.0</text>
<text x="453.80" y="316.50" font-size="18" text-anchor="end" fill="#000" stroke="#000" stroke-width="0.25" >4.4</text>
</svg></body></html>
